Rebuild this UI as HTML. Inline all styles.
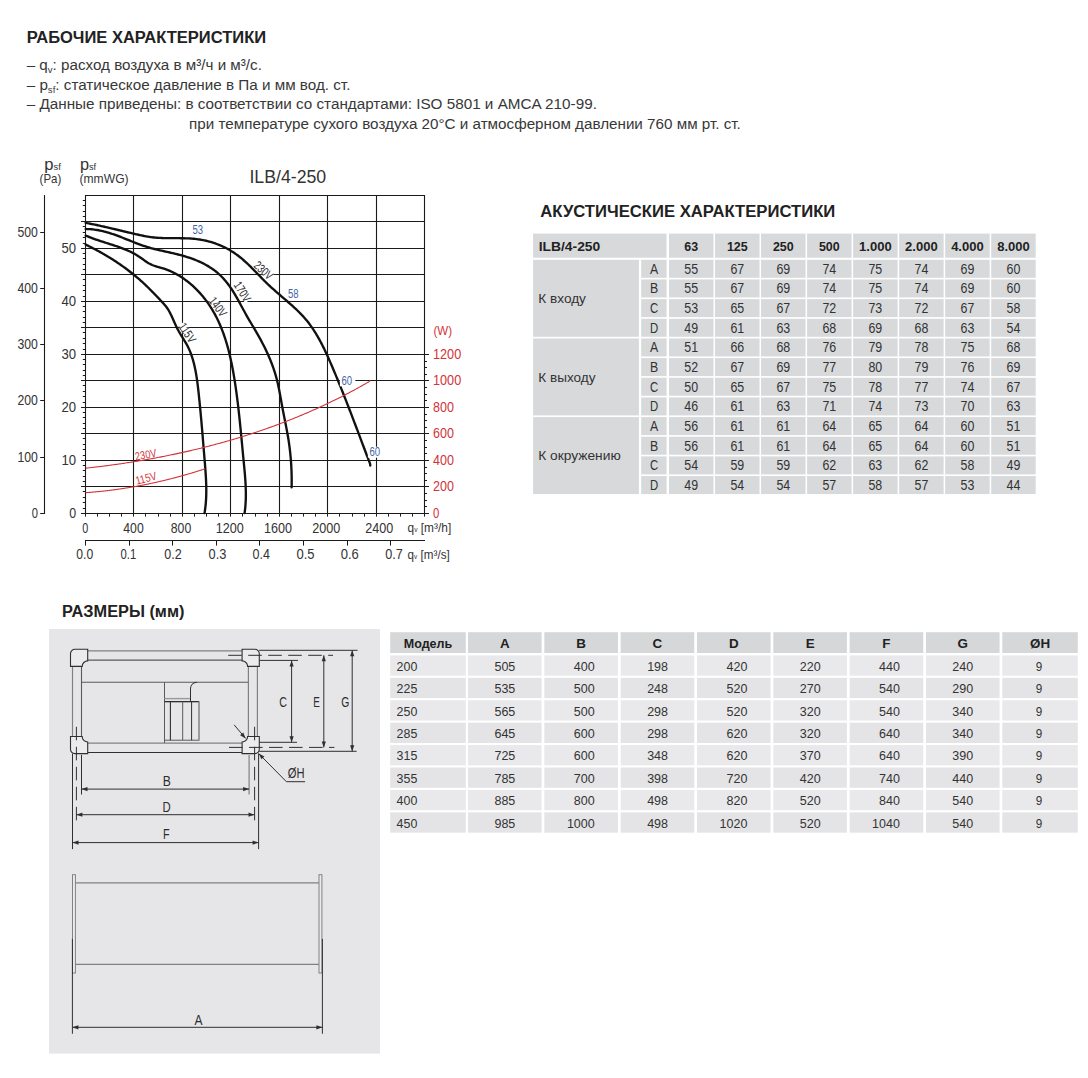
<!DOCTYPE html>
<html><head><meta charset="utf-8"><title>ILB/4-250</title>
<style>
html,body{margin:0;padding:0;background:#fff;}
body{width:1088px;height:1078px;overflow:hidden;}
svg{display:block;font-family:"Liberation Sans",sans-serif;}
</style></head>
<body>
<svg width="1088" height="1078" viewBox="0 0 1088 1078">
<text x="26.70" y="42.70" font-size="17.4" font-weight="bold" fill="#222" textLength="239.40" lengthAdjust="spacingAndGlyphs">РАБОЧИЕ ХАРАКТЕРИСТИКИ</text>
<text x="26.70" y="69.80" font-size="15.2" fill="#383838" textLength="235.20" lengthAdjust="spacingAndGlyphs">– q<tspan font-size="9.5" dy="3.2">v</tspan><tspan dy="-3.2">: расход воздуха в м³/ч и м³/с.</tspan></text>
<text x="26.70" y="89.80" font-size="15.2" fill="#383838" textLength="323.70" lengthAdjust="spacingAndGlyphs">– p<tspan font-size="9.5" dy="3.2">sf</tspan><tspan dy="-3.2">: статическое давление в Па и мм вод. ст.</tspan></text>
<text x="26.70" y="109.30" font-size="15.2" fill="#383838" textLength="570.20" lengthAdjust="spacingAndGlyphs">– Данные приведены: в соответствии со стандартами: ISO 5801 и AMCA 210-99.</text>
<text x="189.10" y="128.80" font-size="15.2" fill="#383838" textLength="551.70" lengthAdjust="spacingAndGlyphs">при температуре сухого воздуха 20°C и атмосферном давлении 760 мм рт. ст.</text>
<line x1="85.50" y1="195.00" x2="85.50" y2="514.00" stroke="#1a1a1a" stroke-width="1.1" />
<line x1="133.50" y1="195.00" x2="133.50" y2="514.00" stroke="#1a1a1a" stroke-width="1.1" />
<line x1="182.50" y1="195.00" x2="182.50" y2="514.00" stroke="#1a1a1a" stroke-width="1.1" />
<line x1="230.50" y1="195.00" x2="230.50" y2="514.00" stroke="#1a1a1a" stroke-width="1.1" />
<line x1="279.50" y1="195.00" x2="279.50" y2="514.00" stroke="#1a1a1a" stroke-width="1.1" />
<line x1="327.50" y1="195.00" x2="327.50" y2="514.00" stroke="#1a1a1a" stroke-width="1.1" />
<line x1="376.50" y1="195.00" x2="376.50" y2="514.00" stroke="#1a1a1a" stroke-width="1.1" />
<line x1="424.50" y1="195.00" x2="424.50" y2="514.00" stroke="#1a1a1a" stroke-width="1.1" />
<line x1="81.00" y1="513.50" x2="429.00" y2="513.50" stroke="#1a1a1a" stroke-width="1.1" />
<line x1="81.00" y1="486.50" x2="429.00" y2="486.50" stroke="#1a1a1a" stroke-width="1.1" />
<line x1="81.00" y1="460.50" x2="429.00" y2="460.50" stroke="#1a1a1a" stroke-width="1.1" />
<line x1="81.00" y1="433.50" x2="429.00" y2="433.50" stroke="#1a1a1a" stroke-width="1.1" />
<line x1="81.00" y1="407.50" x2="429.00" y2="407.50" stroke="#1a1a1a" stroke-width="1.1" />
<line x1="81.00" y1="380.50" x2="429.00" y2="380.50" stroke="#1a1a1a" stroke-width="1.1" />
<line x1="81.00" y1="354.50" x2="429.00" y2="354.50" stroke="#1a1a1a" stroke-width="1.1" />
<line x1="81.00" y1="327.50" x2="425.00" y2="327.50" stroke="#1a1a1a" stroke-width="1.1" />
<line x1="81.00" y1="301.50" x2="425.00" y2="301.50" stroke="#1a1a1a" stroke-width="1.1" />
<line x1="81.00" y1="274.50" x2="425.00" y2="274.50" stroke="#1a1a1a" stroke-width="1.1" />
<line x1="81.00" y1="248.50" x2="425.00" y2="248.50" stroke="#1a1a1a" stroke-width="1.1" />
<line x1="81.00" y1="221.50" x2="425.00" y2="221.50" stroke="#1a1a1a" stroke-width="1.1" />
<line x1="85.00" y1="195.50" x2="425.00" y2="195.50" stroke="#1a1a1a" stroke-width="1.1" />
<line x1="82.80" y1="508.50" x2="85.00" y2="508.50" stroke="#1a1a1a" stroke-width="1.0" />
<line x1="82.80" y1="502.50" x2="85.00" y2="502.50" stroke="#1a1a1a" stroke-width="1.0" />
<line x1="82.80" y1="497.50" x2="85.00" y2="497.50" stroke="#1a1a1a" stroke-width="1.0" />
<line x1="82.80" y1="491.50" x2="85.00" y2="491.50" stroke="#1a1a1a" stroke-width="1.0" />
<line x1="82.80" y1="481.50" x2="85.00" y2="481.50" stroke="#1a1a1a" stroke-width="1.0" />
<line x1="82.80" y1="476.50" x2="85.00" y2="476.50" stroke="#1a1a1a" stroke-width="1.0" />
<line x1="82.80" y1="470.50" x2="85.00" y2="470.50" stroke="#1a1a1a" stroke-width="1.0" />
<line x1="82.80" y1="465.50" x2="85.00" y2="465.50" stroke="#1a1a1a" stroke-width="1.0" />
<line x1="82.80" y1="455.50" x2="85.00" y2="455.50" stroke="#1a1a1a" stroke-width="1.0" />
<line x1="82.80" y1="449.50" x2="85.00" y2="449.50" stroke="#1a1a1a" stroke-width="1.0" />
<line x1="82.80" y1="444.50" x2="85.00" y2="444.50" stroke="#1a1a1a" stroke-width="1.0" />
<line x1="82.80" y1="438.50" x2="85.00" y2="438.50" stroke="#1a1a1a" stroke-width="1.0" />
<line x1="82.80" y1="428.50" x2="85.00" y2="428.50" stroke="#1a1a1a" stroke-width="1.0" />
<line x1="82.80" y1="423.50" x2="85.00" y2="423.50" stroke="#1a1a1a" stroke-width="1.0" />
<line x1="82.80" y1="417.50" x2="85.00" y2="417.50" stroke="#1a1a1a" stroke-width="1.0" />
<line x1="82.80" y1="412.50" x2="85.00" y2="412.50" stroke="#1a1a1a" stroke-width="1.0" />
<line x1="82.80" y1="402.50" x2="85.00" y2="402.50" stroke="#1a1a1a" stroke-width="1.0" />
<line x1="82.80" y1="396.50" x2="85.00" y2="396.50" stroke="#1a1a1a" stroke-width="1.0" />
<line x1="82.80" y1="391.50" x2="85.00" y2="391.50" stroke="#1a1a1a" stroke-width="1.0" />
<line x1="82.80" y1="385.50" x2="85.00" y2="385.50" stroke="#1a1a1a" stroke-width="1.0" />
<line x1="82.80" y1="375.50" x2="85.00" y2="375.50" stroke="#1a1a1a" stroke-width="1.0" />
<line x1="82.80" y1="370.50" x2="85.00" y2="370.50" stroke="#1a1a1a" stroke-width="1.0" />
<line x1="82.80" y1="364.50" x2="85.00" y2="364.50" stroke="#1a1a1a" stroke-width="1.0" />
<line x1="82.80" y1="359.50" x2="85.00" y2="359.50" stroke="#1a1a1a" stroke-width="1.0" />
<line x1="82.80" y1="349.50" x2="85.00" y2="349.50" stroke="#1a1a1a" stroke-width="1.0" />
<line x1="82.80" y1="343.50" x2="85.00" y2="343.50" stroke="#1a1a1a" stroke-width="1.0" />
<line x1="82.80" y1="338.50" x2="85.00" y2="338.50" stroke="#1a1a1a" stroke-width="1.0" />
<line x1="82.80" y1="332.50" x2="85.00" y2="332.50" stroke="#1a1a1a" stroke-width="1.0" />
<line x1="82.80" y1="322.50" x2="85.00" y2="322.50" stroke="#1a1a1a" stroke-width="1.0" />
<line x1="82.80" y1="317.50" x2="85.00" y2="317.50" stroke="#1a1a1a" stroke-width="1.0" />
<line x1="82.80" y1="311.50" x2="85.00" y2="311.50" stroke="#1a1a1a" stroke-width="1.0" />
<line x1="82.80" y1="306.50" x2="85.00" y2="306.50" stroke="#1a1a1a" stroke-width="1.0" />
<line x1="82.80" y1="296.50" x2="85.00" y2="296.50" stroke="#1a1a1a" stroke-width="1.0" />
<line x1="82.80" y1="290.50" x2="85.00" y2="290.50" stroke="#1a1a1a" stroke-width="1.0" />
<line x1="82.80" y1="285.50" x2="85.00" y2="285.50" stroke="#1a1a1a" stroke-width="1.0" />
<line x1="82.80" y1="279.50" x2="85.00" y2="279.50" stroke="#1a1a1a" stroke-width="1.0" />
<line x1="82.80" y1="269.50" x2="85.00" y2="269.50" stroke="#1a1a1a" stroke-width="1.0" />
<line x1="82.80" y1="264.50" x2="85.00" y2="264.50" stroke="#1a1a1a" stroke-width="1.0" />
<line x1="82.80" y1="258.50" x2="85.00" y2="258.50" stroke="#1a1a1a" stroke-width="1.0" />
<line x1="82.80" y1="253.50" x2="85.00" y2="253.50" stroke="#1a1a1a" stroke-width="1.0" />
<line x1="82.80" y1="243.50" x2="85.00" y2="243.50" stroke="#1a1a1a" stroke-width="1.0" />
<line x1="82.80" y1="237.50" x2="85.00" y2="237.50" stroke="#1a1a1a" stroke-width="1.0" />
<line x1="82.80" y1="232.50" x2="85.00" y2="232.50" stroke="#1a1a1a" stroke-width="1.0" />
<line x1="82.80" y1="226.50" x2="85.00" y2="226.50" stroke="#1a1a1a" stroke-width="1.0" />
<line x1="82.80" y1="216.50" x2="85.00" y2="216.50" stroke="#1a1a1a" stroke-width="1.0" />
<line x1="82.80" y1="211.50" x2="85.00" y2="211.50" stroke="#1a1a1a" stroke-width="1.0" />
<line x1="82.80" y1="205.50" x2="85.00" y2="205.50" stroke="#1a1a1a" stroke-width="1.0" />
<line x1="82.80" y1="200.50" x2="85.00" y2="200.50" stroke="#1a1a1a" stroke-width="1.0" />
<line x1="424.00" y1="506.50" x2="427.00" y2="506.50" stroke="#1a1a1a" stroke-width="1.0" />
<line x1="424.00" y1="500.50" x2="427.00" y2="500.50" stroke="#1a1a1a" stroke-width="1.0" />
<line x1="424.00" y1="493.50" x2="427.00" y2="493.50" stroke="#1a1a1a" stroke-width="1.0" />
<line x1="424.00" y1="480.50" x2="427.00" y2="480.50" stroke="#1a1a1a" stroke-width="1.0" />
<line x1="424.00" y1="473.50" x2="427.00" y2="473.50" stroke="#1a1a1a" stroke-width="1.0" />
<line x1="424.00" y1="467.50" x2="427.00" y2="467.50" stroke="#1a1a1a" stroke-width="1.0" />
<line x1="424.00" y1="453.50" x2="427.00" y2="453.50" stroke="#1a1a1a" stroke-width="1.0" />
<line x1="424.00" y1="447.50" x2="427.00" y2="447.50" stroke="#1a1a1a" stroke-width="1.0" />
<line x1="424.00" y1="440.50" x2="427.00" y2="440.50" stroke="#1a1a1a" stroke-width="1.0" />
<line x1="424.00" y1="427.50" x2="427.00" y2="427.50" stroke="#1a1a1a" stroke-width="1.0" />
<line x1="424.00" y1="420.50" x2="427.00" y2="420.50" stroke="#1a1a1a" stroke-width="1.0" />
<line x1="424.00" y1="414.50" x2="427.00" y2="414.50" stroke="#1a1a1a" stroke-width="1.0" />
<line x1="424.00" y1="400.50" x2="427.00" y2="400.50" stroke="#1a1a1a" stroke-width="1.0" />
<line x1="424.00" y1="394.50" x2="427.00" y2="394.50" stroke="#1a1a1a" stroke-width="1.0" />
<line x1="424.00" y1="387.50" x2="427.00" y2="387.50" stroke="#1a1a1a" stroke-width="1.0" />
<line x1="424.00" y1="374.50" x2="427.00" y2="374.50" stroke="#1a1a1a" stroke-width="1.0" />
<line x1="424.00" y1="367.50" x2="427.00" y2="367.50" stroke="#1a1a1a" stroke-width="1.0" />
<line x1="424.00" y1="361.50" x2="427.00" y2="361.50" stroke="#1a1a1a" stroke-width="1.0" />
<line x1="85.50" y1="513.00" x2="85.50" y2="516.60" stroke="#1a1a1a" stroke-width="1.0" />
<line x1="97.50" y1="513.00" x2="97.50" y2="516.60" stroke="#1a1a1a" stroke-width="1.0" />
<line x1="109.50" y1="513.00" x2="109.50" y2="516.60" stroke="#1a1a1a" stroke-width="1.0" />
<line x1="121.50" y1="513.00" x2="121.50" y2="516.60" stroke="#1a1a1a" stroke-width="1.0" />
<line x1="133.50" y1="513.00" x2="133.50" y2="516.60" stroke="#1a1a1a" stroke-width="1.0" />
<line x1="145.50" y1="513.00" x2="145.50" y2="516.60" stroke="#1a1a1a" stroke-width="1.0" />
<line x1="158.50" y1="513.00" x2="158.50" y2="516.60" stroke="#1a1a1a" stroke-width="1.0" />
<line x1="170.50" y1="513.00" x2="170.50" y2="516.60" stroke="#1a1a1a" stroke-width="1.0" />
<line x1="182.50" y1="513.00" x2="182.50" y2="516.60" stroke="#1a1a1a" stroke-width="1.0" />
<line x1="194.50" y1="513.00" x2="194.50" y2="516.60" stroke="#1a1a1a" stroke-width="1.0" />
<line x1="206.50" y1="513.00" x2="206.50" y2="516.60" stroke="#1a1a1a" stroke-width="1.0" />
<line x1="218.50" y1="513.00" x2="218.50" y2="516.60" stroke="#1a1a1a" stroke-width="1.0" />
<line x1="230.50" y1="513.00" x2="230.50" y2="516.60" stroke="#1a1a1a" stroke-width="1.0" />
<line x1="242.50" y1="513.00" x2="242.50" y2="516.60" stroke="#1a1a1a" stroke-width="1.0" />
<line x1="255.50" y1="513.00" x2="255.50" y2="516.60" stroke="#1a1a1a" stroke-width="1.0" />
<line x1="267.50" y1="513.00" x2="267.50" y2="516.60" stroke="#1a1a1a" stroke-width="1.0" />
<line x1="279.50" y1="513.00" x2="279.50" y2="516.60" stroke="#1a1a1a" stroke-width="1.0" />
<line x1="291.50" y1="513.00" x2="291.50" y2="516.60" stroke="#1a1a1a" stroke-width="1.0" />
<line x1="303.50" y1="513.00" x2="303.50" y2="516.60" stroke="#1a1a1a" stroke-width="1.0" />
<line x1="315.50" y1="513.00" x2="315.50" y2="516.60" stroke="#1a1a1a" stroke-width="1.0" />
<line x1="327.50" y1="513.00" x2="327.50" y2="516.60" stroke="#1a1a1a" stroke-width="1.0" />
<line x1="339.50" y1="513.00" x2="339.50" y2="516.60" stroke="#1a1a1a" stroke-width="1.0" />
<line x1="352.50" y1="513.00" x2="352.50" y2="516.60" stroke="#1a1a1a" stroke-width="1.0" />
<line x1="364.50" y1="513.00" x2="364.50" y2="516.60" stroke="#1a1a1a" stroke-width="1.0" />
<line x1="376.50" y1="513.00" x2="376.50" y2="516.60" stroke="#1a1a1a" stroke-width="1.0" />
<line x1="388.50" y1="513.00" x2="388.50" y2="516.60" stroke="#1a1a1a" stroke-width="1.0" />
<line x1="400.50" y1="513.00" x2="400.50" y2="516.60" stroke="#1a1a1a" stroke-width="1.0" />
<line x1="412.50" y1="513.00" x2="412.50" y2="516.60" stroke="#1a1a1a" stroke-width="1.0" />
<line x1="424.50" y1="513.00" x2="424.50" y2="516.60" stroke="#1a1a1a" stroke-width="1.0" />
<line x1="85.00" y1="540.50" x2="425.00" y2="540.50" stroke="#1a1a1a" stroke-width="1.1" />
<line x1="85.50" y1="540.00" x2="85.50" y2="545.60" stroke="#1a1a1a" stroke-width="1.0" />
<line x1="129.50" y1="540.00" x2="129.50" y2="545.60" stroke="#1a1a1a" stroke-width="1.0" />
<line x1="172.50" y1="540.00" x2="172.50" y2="545.60" stroke="#1a1a1a" stroke-width="1.0" />
<line x1="216.50" y1="540.00" x2="216.50" y2="545.60" stroke="#1a1a1a" stroke-width="1.0" />
<line x1="259.50" y1="540.00" x2="259.50" y2="545.60" stroke="#1a1a1a" stroke-width="1.0" />
<line x1="303.50" y1="540.00" x2="303.50" y2="545.60" stroke="#1a1a1a" stroke-width="1.0" />
<line x1="347.50" y1="540.00" x2="347.50" y2="545.60" stroke="#1a1a1a" stroke-width="1.0" />
<line x1="390.50" y1="540.00" x2="390.50" y2="545.60" stroke="#1a1a1a" stroke-width="1.0" />
<line x1="44.50" y1="195.00" x2="44.50" y2="514.00" stroke="#1a1a1a" stroke-width="1.1" />
<line x1="40.20" y1="513.50" x2="45.00" y2="513.50" stroke="#1a1a1a" stroke-width="1.0" />
<line x1="40.20" y1="457.50" x2="45.00" y2="457.50" stroke="#1a1a1a" stroke-width="1.0" />
<line x1="40.20" y1="400.50" x2="45.00" y2="400.50" stroke="#1a1a1a" stroke-width="1.0" />
<line x1="40.20" y1="344.50" x2="45.00" y2="344.50" stroke="#1a1a1a" stroke-width="1.0" />
<line x1="40.20" y1="288.50" x2="45.00" y2="288.50" stroke="#1a1a1a" stroke-width="1.0" />
<line x1="40.20" y1="232.50" x2="45.00" y2="232.50" stroke="#1a1a1a" stroke-width="1.0" />
<text x="37.90" y="518.10" font-size="14.2" fill="#333" text-anchor="end" textLength="6.20" lengthAdjust="spacingAndGlyphs">0</text>
<text x="37.90" y="462.10" font-size="14.2" fill="#333" text-anchor="end" textLength="20.40" lengthAdjust="spacingAndGlyphs">100</text>
<text x="37.90" y="405.10" font-size="14.2" fill="#333" text-anchor="end" textLength="20.40" lengthAdjust="spacingAndGlyphs">200</text>
<text x="37.90" y="349.10" font-size="14.2" fill="#333" text-anchor="end" textLength="20.40" lengthAdjust="spacingAndGlyphs">300</text>
<text x="37.90" y="293.10" font-size="14.2" fill="#333" text-anchor="end" textLength="20.40" lengthAdjust="spacingAndGlyphs">400</text>
<text x="37.90" y="237.10" font-size="14.2" fill="#333" text-anchor="end" textLength="20.40" lengthAdjust="spacingAndGlyphs">500</text>
<text x="76.10" y="518.10" font-size="14.2" fill="#333" text-anchor="end" textLength="6.90" lengthAdjust="spacingAndGlyphs">0</text>
<text x="76.10" y="465.10" font-size="14.2" fill="#333" text-anchor="end" textLength="14.60" lengthAdjust="spacingAndGlyphs">10</text>
<text x="76.10" y="412.10" font-size="14.2" fill="#333" text-anchor="end" textLength="14.60" lengthAdjust="spacingAndGlyphs">20</text>
<text x="76.10" y="359.10" font-size="14.2" fill="#333" text-anchor="end" textLength="14.60" lengthAdjust="spacingAndGlyphs">30</text>
<text x="76.10" y="306.10" font-size="14.2" fill="#333" text-anchor="end" textLength="14.60" lengthAdjust="spacingAndGlyphs">40</text>
<text x="76.10" y="253.10" font-size="14.2" fill="#333" text-anchor="end" textLength="14.60" lengthAdjust="spacingAndGlyphs">50</text>
<text x="85.30" y="532.90" font-size="14.2" fill="#333" text-anchor="middle" textLength="6.00" lengthAdjust="spacingAndGlyphs">0</text>
<text x="133.50" y="532.90" font-size="14.2" fill="#333" text-anchor="middle" textLength="20.40" lengthAdjust="spacingAndGlyphs">400</text>
<text x="181.00" y="532.90" font-size="14.2" fill="#333" text-anchor="middle" textLength="20.40" lengthAdjust="spacingAndGlyphs">800</text>
<text x="229.70" y="532.90" font-size="14.2" fill="#333" text-anchor="middle" textLength="28.00" lengthAdjust="spacingAndGlyphs">1200</text>
<text x="278.00" y="532.90" font-size="14.2" fill="#333" text-anchor="middle" textLength="28.00" lengthAdjust="spacingAndGlyphs">1600</text>
<text x="326.20" y="532.90" font-size="14.2" fill="#333" text-anchor="middle" textLength="28.00" lengthAdjust="spacingAndGlyphs">2000</text>
<text x="379.20" y="532.90" font-size="14.2" fill="#333" text-anchor="middle" textLength="28.00" lengthAdjust="spacingAndGlyphs">2400</text>
<text x="84.70" y="558.80" font-size="14.2" fill="#333" text-anchor="middle" textLength="16.90" lengthAdjust="spacingAndGlyphs">0.0</text>
<text x="128.40" y="558.80" font-size="14.2" fill="#333" text-anchor="middle" textLength="15.70" lengthAdjust="spacingAndGlyphs">0.1</text>
<text x="173.00" y="558.80" font-size="14.2" fill="#333" text-anchor="middle" textLength="17.40" lengthAdjust="spacingAndGlyphs">0.2</text>
<text x="217.50" y="558.80" font-size="14.2" fill="#333" text-anchor="middle" textLength="17.80" lengthAdjust="spacingAndGlyphs">0.3</text>
<text x="261.20" y="558.80" font-size="14.2" fill="#333" text-anchor="middle" textLength="17.40" lengthAdjust="spacingAndGlyphs">0.4</text>
<text x="305.50" y="558.80" font-size="14.2" fill="#333" text-anchor="middle" textLength="18.10" lengthAdjust="spacingAndGlyphs">0.5</text>
<text x="349.70" y="558.80" font-size="14.2" fill="#333" text-anchor="middle" textLength="18.10" lengthAdjust="spacingAndGlyphs">0.6</text>
<text x="394.00" y="558.80" font-size="14.2" fill="#333" text-anchor="middle" textLength="17.60" lengthAdjust="spacingAndGlyphs">0.7</text>
<text x="433.00" y="518.10" font-size="14.2" fill="#d2343b" textLength="6.30" lengthAdjust="spacingAndGlyphs">0</text>
<text x="433.00" y="491.10" font-size="14.2" fill="#d2343b" textLength="20.90" lengthAdjust="spacingAndGlyphs">200</text>
<text x="433.00" y="465.10" font-size="14.2" fill="#d2343b" textLength="20.90" lengthAdjust="spacingAndGlyphs">400</text>
<text x="433.00" y="438.10" font-size="14.2" fill="#d2343b" textLength="20.90" lengthAdjust="spacingAndGlyphs">600</text>
<text x="433.00" y="412.10" font-size="14.2" fill="#d2343b" textLength="20.90" lengthAdjust="spacingAndGlyphs">800</text>
<text x="433.00" y="385.10" font-size="14.2" fill="#d2343b" textLength="28.20" lengthAdjust="spacingAndGlyphs">1000</text>
<text x="433.00" y="359.10" font-size="14.2" fill="#d2343b" textLength="28.20" lengthAdjust="spacingAndGlyphs">1200</text>
<text x="433.40" y="335.40" font-size="13.5" fill="#d2343b" textLength="18.60" lengthAdjust="spacingAndGlyphs">(W)</text>
<text x="407.60" y="532.40" font-size="12.6" fill="#333" textLength="43.60" lengthAdjust="spacingAndGlyphs">q<tspan font-size="7" dy="0">v</tspan><tspan> [m³/h]</tspan></text>
<text x="407.60" y="558.60" font-size="12.6" fill="#333" textLength="42.10" lengthAdjust="spacingAndGlyphs">q<tspan font-size="7" dy="0">v</tspan><tspan> [m³/s]</tspan></text>
<text x="44.30" y="169.50" font-size="16" fill="#333" textLength="16.50" lengthAdjust="spacingAndGlyphs">p<tspan font-size="9" dy="0">sf</tspan></text>
<text x="39.60" y="183.00" font-size="13.2" fill="#333" textLength="21.70" lengthAdjust="spacingAndGlyphs">(Pa)</text>
<text x="79.90" y="169.50" font-size="16" fill="#333" textLength="16.20" lengthAdjust="spacingAndGlyphs">p<tspan font-size="9" dy="0">sf</tspan></text>
<text x="79.50" y="183.00" font-size="13.2" fill="#333" textLength="49.10" lengthAdjust="spacingAndGlyphs">(mmWG)</text>
<text x="249.40" y="183.30" font-size="18.8" fill="#333" textLength="76.80" lengthAdjust="spacingAndGlyphs">ILB/4-250</text>
<path d="M85.70,222.80 L87.25,223.17 L88.80,223.46 L90.36,223.76 L91.91,224.07 L93.46,224.38 L95.01,224.70 L96.56,225.02 L98.11,225.35 L99.66,225.69 L101.21,226.03 L102.76,226.38 L104.31,226.73 L105.86,227.08 L107.41,227.44 L108.96,227.80 L110.51,228.16 L112.05,228.52 L113.60,228.89 L115.15,229.26 L116.70,229.63 L118.25,230.00 L119.80,230.37 L121.35,230.75 L122.90,231.12 L124.44,231.49 L125.99,231.86 L127.54,232.24 L129.09,232.60 L130.65,232.97 L132.20,233.34 L133.75,233.70 L135.30,234.06 L136.85,234.42 L138.41,234.77 L139.96,235.11 L141.52,235.44 L143.07,235.75 L144.63,236.06 L146.19,236.34 L147.75,236.61 L149.32,236.86 L150.88,237.08 L152.45,237.29 L154.02,237.46 L155.59,237.62 L157.16,237.75 L158.74,237.85 L160.32,237.94 L161.89,238.01 L163.47,238.07 L165.05,238.11 L166.64,238.14 L168.22,238.16 L169.80,238.17 L171.39,238.18 L172.97,238.18 L174.55,238.19 L176.14,238.19 L177.72,238.19 L179.31,238.20 L180.89,238.21 L182.48,238.23 L184.06,238.26 L185.64,238.31 L187.22,238.36 L188.80,238.43 L190.38,238.52 L191.96,238.63 L193.54,238.76 L195.11,238.91 L196.68,239.09 L198.25,239.30 L199.82,239.53 L201.39,239.80 L202.95,240.09 L204.51,240.41 L206.06,240.76 L207.61,241.14 L209.15,241.54 L210.68,241.98 L212.21,242.44 L213.72,242.93 L215.23,243.45 L216.73,243.99 L218.22,244.56 L219.70,245.16 L221.16,245.79 L222.62,246.44 L224.06,247.12 L225.48,247.82 L226.89,248.55 L228.29,249.31 L229.67,250.09 L231.03,250.89 L232.38,251.72 L233.71,252.58 L235.02,253.46 L236.30,254.36 L237.57,255.29 L238.83,256.24 L240.06,257.21 L241.28,258.20 L242.48,259.22 L243.67,260.24 L244.85,261.29 L246.01,262.35 L247.17,263.42 L248.31,264.51 L249.45,265.61 L250.58,266.71 L251.70,267.83 L252.82,268.96 L253.93,270.09 L255.04,271.22 L256.15,272.36 L257.25,273.51 L258.36,274.65 L259.47,275.80 L260.58,276.94 L261.69,278.09 L262.81,279.23 L263.93,280.36 L265.06,281.49 L266.20,282.62 L267.35,283.73 L268.51,284.83 L269.67,285.93 L270.85,287.02 L272.03,288.10 L273.23,289.17 L274.42,290.23 L275.63,291.29 L276.84,292.34 L278.05,293.39 L279.26,294.44 L280.48,295.48 L281.69,296.52 L282.91,297.57 L284.13,298.61 L285.34,299.65 L286.55,300.69 L287.76,301.74 L288.96,302.78 L290.16,303.84 L291.35,304.89 L292.53,305.95 L293.71,307.02 L294.87,308.10 L296.03,309.18 L297.17,310.27 L298.30,311.38 L299.42,312.49 L300.52,313.61 L301.61,314.74 L302.69,315.89 L303.74,317.05 L304.78,318.23 L305.80,319.42 L306.80,320.62 L307.78,321.85 L308.74,323.08 L309.69,324.33 L310.61,325.60 L311.52,326.88 L312.42,328.17 L313.29,329.47 L314.15,330.79 L315.00,332.12 L315.83,333.46 L316.64,334.81 L317.45,336.17 L318.24,337.54 L319.01,338.92 L319.78,340.31 L320.53,341.70 L321.27,343.11 L322.00,344.52 L322.72,345.94 L323.43,347.37 L324.14,348.80 L324.83,350.24 L325.51,351.68 L326.19,353.13 L326.86,354.58 L327.52,356.04 L328.18,357.50 L328.83,358.96 L329.48,360.42 L330.12,361.89 L330.75,363.36 L331.39,364.83 L332.02,366.30 L332.65,367.76 L333.27,369.23 L333.89,370.70 L334.51,372.17 L335.13,373.64 L335.74,375.11 L336.35,376.58 L336.96,378.05 L337.57,379.52 L338.17,381.00 L338.77,382.47 L339.37,383.94 L339.97,385.41 L340.56,386.88 L341.16,388.35 L341.75,389.83 L342.34,391.30 L342.92,392.77 L343.51,394.25 L344.09,395.72 L344.68,397.19 L345.26,398.67 L345.83,400.14 L346.41,401.62 L346.99,403.09 L347.56,404.57 L348.14,406.04 L348.71,407.52 L349.28,409.00 L349.85,410.47 L350.42,411.95 L350.99,413.43 L351.55,414.90 L352.12,416.38 L352.68,417.86 L353.25,419.34 L353.81,420.82 L354.37,422.30 L354.93,423.78 L355.50,425.26 L356.06,426.74 L356.62,428.22 L357.18,429.70 L357.74,431.19 L358.30,432.67 L358.86,434.15 L359.42,435.64 L359.98,437.12 L360.54,438.60 L361.10,440.09 L361.65,441.57 L362.21,443.06 L362.77,444.55 L363.33,446.03 L363.90,447.52 L364.46,449.01 L365.02,450.50 L365.58,451.99 L366.14,453.48 L366.71,454.97 L367.27,456.46 L367.83,457.95 L368.40,459.44 L368.97,460.93 L369.53,462.43 L370.10,463.92 L370.30,465.50" fill="none" stroke="#111" stroke-width="2.35" stroke-linecap="round" stroke-linejoin="round"/>
<path d="M85.70,228.90 L87.13,229.05 L88.60,229.09 L90.07,229.17 L91.52,229.28 L92.97,229.42 L94.41,229.59 L95.84,229.79 L97.26,230.02 L98.68,230.27 L100.09,230.55 L101.49,230.85 L102.89,231.18 L104.28,231.53 L105.67,231.89 L107.05,232.28 L108.42,232.69 L109.79,233.11 L111.16,233.55 L112.52,234.00 L113.88,234.46 L115.24,234.94 L116.59,235.43 L117.94,235.93 L119.28,236.44 L120.63,236.96 L121.97,237.48 L123.31,238.01 L124.65,238.54 L125.99,239.07 L127.33,239.61 L128.66,240.15 L130.00,240.68 L131.34,241.22 L132.68,241.75 L134.01,242.28 L135.35,242.80 L136.70,243.32 L138.04,243.83 L139.38,244.33 L140.73,244.82 L142.08,245.30 L143.43,245.77 L144.79,246.22 L146.15,246.66 L147.51,247.08 L148.88,247.49 L150.25,247.89 L151.63,248.27 L153.01,248.63 L154.39,248.99 L155.77,249.34 L157.16,249.67 L158.55,250.01 L159.94,250.33 L161.34,250.65 L162.73,250.96 L164.13,251.27 L165.53,251.58 L166.92,251.89 L168.32,252.20 L169.72,252.52 L171.12,252.83 L172.53,253.15 L173.93,253.48 L175.33,253.81 L176.73,254.15 L178.12,254.49 L179.52,254.85 L180.92,255.22 L182.31,255.60 L183.71,256.00 L185.10,256.41 L186.48,256.83 L187.87,257.27 L189.24,257.72 L190.62,258.19 L191.99,258.67 L193.35,259.17 L194.70,259.69 L196.04,260.22 L197.38,260.78 L198.71,261.35 L200.02,261.94 L201.33,262.55 L202.62,263.17 L203.91,263.82 L205.18,264.49 L206.43,265.18 L207.67,265.89 L208.90,266.62 L210.11,267.38 L211.31,268.15 L212.48,268.95 L213.64,269.78 L214.79,270.62 L215.91,271.49 L217.01,272.39 L218.09,273.31 L219.16,274.26 L220.20,275.23 L221.21,276.23 L222.21,277.25 L223.19,278.29 L224.15,279.36 L225.09,280.44 L226.01,281.55 L226.91,282.67 L227.79,283.81 L228.66,284.96 L229.51,286.13 L230.34,287.32 L231.15,288.51 L231.96,289.72 L232.74,290.93 L233.51,292.16 L234.27,293.39 L235.02,294.63 L235.75,295.87 L236.47,297.12 L237.19,298.38 L237.89,299.64 L238.59,300.90 L239.28,302.17 L239.97,303.43 L240.66,304.70 L241.34,305.97 L242.02,307.24 L242.71,308.51 L243.39,309.77 L244.08,311.04 L244.78,312.30 L245.47,313.55 L246.18,314.81 L246.89,316.06 L247.61,317.30 L248.33,318.55 L249.05,319.79 L249.78,321.03 L250.51,322.27 L251.24,323.51 L251.97,324.74 L252.70,325.98 L253.43,327.22 L254.17,328.45 L254.90,329.69 L255.62,330.93 L256.35,332.17 L257.07,333.41 L257.78,334.65 L258.49,335.90 L259.20,337.15 L259.90,338.41 L260.59,339.66 L261.28,340.92 L261.95,342.19 L262.62,343.46 L263.28,344.74 L263.94,346.01 L264.58,347.30 L265.21,348.59 L265.84,349.88 L266.45,351.17 L267.06,352.48 L267.66,353.78 L268.24,355.09 L268.82,356.40 L269.38,357.72 L269.94,359.05 L270.48,360.37 L271.01,361.70 L271.53,363.04 L272.04,364.38 L272.54,365.72 L273.02,367.07 L273.50,368.42 L273.96,369.78 L274.40,371.14 L274.84,372.51 L275.26,373.88 L275.67,375.25 L276.06,376.63 L276.44,378.02 L276.81,379.40 L277.16,380.79 L277.49,382.19 L277.82,383.59 L278.13,384.99 L278.44,386.40 L278.73,387.80 L279.02,389.21 L279.30,390.63 L279.57,392.04 L279.84,393.46 L280.10,394.88 L280.36,396.29 L280.61,397.71 L280.86,399.13 L281.12,400.55 L281.37,401.97 L281.62,403.39 L281.88,404.81 L282.14,406.23 L282.40,407.64 L282.67,409.06 L282.94,410.47 L283.21,411.88 L283.49,413.30 L283.77,414.71 L284.05,416.11 L284.33,417.52 L284.61,418.93 L284.89,420.34 L285.17,421.75 L285.45,423.15 L285.73,424.56 L286.01,425.97 L286.28,427.38 L286.55,428.79 L286.82,430.20 L287.08,431.61 L287.34,433.02 L287.59,434.43 L287.84,435.84 L288.08,437.26 L288.31,438.67 L288.54,440.09 L288.76,441.51 L288.97,442.93 L289.17,444.35 L289.36,445.78 L289.55,447.20 L289.73,448.63 L289.90,450.06 L290.06,451.49 L290.22,452.92 L290.36,454.35 L290.50,455.78 L290.64,457.22 L290.76,458.65 L290.88,460.09 L290.98,461.52 L291.09,462.96 L291.18,464.39 L291.26,465.83 L291.34,467.27 L291.41,468.71 L291.47,470.15 L291.53,471.58 L291.57,473.02 L291.61,474.46 L291.64,475.90 L291.67,477.34 L291.68,478.78 L291.69,480.22 L291.69,481.66 L291.68,483.09 L291.67,484.53 L291.64,485.97 L291.60,487.40" fill="none" stroke="#111" stroke-width="2.35" stroke-linecap="round" stroke-linejoin="round"/>
<path d="M85.70,235.60 L87.01,236.03 L88.26,236.57 L89.53,237.09 L90.80,237.60 L92.08,238.10 L93.37,238.58 L94.67,239.06 L95.97,239.52 L97.28,239.97 L98.59,240.42 L99.91,240.86 L101.23,241.29 L102.55,241.72 L103.88,242.15 L105.21,242.57 L106.54,243.00 L107.87,243.42 L109.20,243.84 L110.53,244.26 L111.86,244.69 L113.19,245.12 L114.51,245.56 L115.83,246.00 L117.15,246.45 L118.47,246.91 L119.78,247.37 L121.08,247.85 L122.38,248.34 L123.67,248.84 L124.95,249.35 L126.22,249.88 L127.49,250.42 L128.75,250.98 L129.99,251.56 L131.23,252.15 L132.45,252.77 L133.67,253.41 L134.87,254.07 L136.06,254.75 L137.23,255.45 L138.39,256.19 L139.54,256.94 L140.67,257.72 L141.79,258.52 L142.91,259.32 L144.03,260.13 L145.15,260.92 L146.28,261.69 L147.42,262.44 L148.58,263.15 L149.77,263.82 L150.98,264.44 L152.22,265.00 L153.49,265.50 L154.78,265.96 L156.10,266.37 L157.42,266.77 L158.76,267.15 L160.10,267.52 L161.43,267.91 L162.76,268.30 L164.07,268.72 L165.37,269.17 L166.67,269.64 L167.95,270.13 L169.21,270.65 L170.47,271.19 L171.72,271.75 L172.95,272.33 L174.17,272.94 L175.39,273.57 L176.59,274.22 L177.78,274.89 L178.96,275.59 L180.13,276.30 L181.29,277.04 L182.44,277.80 L183.58,278.57 L184.71,279.37 L185.83,280.19 L186.94,281.03 L188.04,281.88 L189.12,282.75 L190.20,283.64 L191.26,284.55 L192.31,285.47 L193.35,286.41 L194.37,287.37 L195.38,288.34 L196.38,289.32 L197.37,290.32 L198.34,291.33 L199.29,292.35 L200.23,293.39 L201.16,294.44 L202.07,295.50 L202.97,296.57 L203.85,297.65 L204.72,298.74 L205.56,299.84 L206.40,300.95 L207.21,302.06 L208.02,303.19 L208.80,304.32 L209.57,305.47 L210.33,306.62 L211.07,307.78 L211.79,308.94 L212.50,310.12 L213.20,311.30 L213.88,312.49 L214.55,313.69 L215.20,314.89 L215.84,316.10 L216.47,317.32 L217.08,318.54 L217.68,319.77 L218.27,321.01 L218.85,322.26 L219.41,323.51 L219.96,324.76 L220.50,326.02 L221.02,327.29 L221.54,328.56 L222.04,329.84 L222.54,331.12 L223.02,332.41 L223.49,333.71 L223.95,335.00 L224.40,336.31 L224.84,337.61 L225.27,338.93 L225.69,340.24 L226.10,341.56 L226.50,342.88 L226.89,344.21 L227.27,345.54 L227.65,346.88 L228.01,348.21 L228.37,349.56 L228.72,350.90 L229.06,352.25 L229.39,353.59 L229.72,354.95 L230.03,356.30 L230.34,357.66 L230.65,359.02 L230.94,360.38 L231.23,361.74 L231.52,363.10 L231.80,364.47 L232.07,365.83 L232.33,367.20 L232.59,368.57 L232.85,369.94 L233.10,371.31 L233.34,372.68 L233.58,374.06 L233.81,375.43 L234.04,376.80 L234.27,378.17 L234.49,379.54 L234.71,380.92 L234.93,382.29 L235.14,383.66 L235.34,385.03 L235.55,386.40 L235.75,387.77 L235.95,389.14 L236.14,390.51 L236.33,391.88 L236.52,393.25 L236.70,394.62 L236.88,395.99 L237.06,397.36 L237.24,398.73 L237.41,400.10 L237.58,401.47 L237.75,402.84 L237.92,404.21 L238.08,405.58 L238.24,406.95 L238.40,408.32 L238.56,409.69 L238.71,411.06 L238.86,412.43 L239.01,413.79 L239.16,415.16 L239.31,416.53 L239.46,417.90 L239.60,419.27 L239.74,420.64 L239.88,422.01 L240.02,423.39 L240.16,424.76 L240.30,426.13 L240.44,427.50 L240.57,428.87 L240.70,430.24 L240.84,431.61 L240.97,432.99 L241.10,434.36 L241.23,435.73 L241.37,437.10 L241.50,438.48 L241.63,439.85 L241.76,441.22 L241.89,442.60 L242.02,443.97 L242.15,445.35 L242.27,446.73 L242.40,448.10 L242.53,449.48 L242.66,450.85 L242.80,452.23 L242.93,453.61 L243.06,454.99 L243.19,456.37 L243.32,457.75 L243.46,459.13 L243.59,460.51 L243.73,461.89 L243.86,463.27 L244.00,464.65 L244.13,466.04 L244.26,467.42 L244.39,468.80 L244.52,470.19 L244.65,471.57 L244.77,472.95 L244.89,474.34 L245.00,475.72 L245.11,477.11 L245.21,478.49 L245.31,479.88 L245.40,481.26 L245.48,482.64 L245.56,484.03 L245.63,485.41 L245.69,486.80 L245.74,488.18 L245.78,489.56 L245.81,490.95 L245.84,492.33 L245.85,493.71 L245.85,495.09 L245.84,496.47 L245.81,497.85 L245.78,499.23 L245.72,500.61 L245.66,501.99 L245.58,503.37 L245.49,504.75 L245.38,506.12 L245.26,507.50 L245.12,508.87 L244.96,510.25 L244.79,511.62 L244.60,513.00" fill="none" stroke="#111" stroke-width="2.35" stroke-linecap="round" stroke-linejoin="round"/>
<path d="M85.70,244.50 L86.73,245.10 L87.84,245.64 L88.94,246.19 L90.05,246.74 L91.14,247.29 L92.24,247.85 L93.33,248.42 L94.42,248.98 L95.51,249.56 L96.59,250.13 L97.67,250.72 L98.74,251.30 L99.82,251.89 L100.89,252.49 L101.95,253.09 L103.01,253.69 L104.07,254.30 L105.13,254.92 L106.18,255.54 L107.23,256.16 L108.28,256.79 L109.32,257.43 L110.36,258.07 L111.39,258.71 L112.42,259.36 L113.45,260.01 L114.47,260.67 L115.49,261.34 L116.51,262.01 L117.52,262.68 L118.53,263.36 L119.54,264.05 L120.54,264.74 L121.54,265.44 L122.53,266.14 L123.52,266.84 L124.51,267.56 L125.49,268.28 L126.47,269.00 L127.44,269.73 L128.41,270.46 L129.38,271.20 L130.34,271.95 L131.30,272.70 L132.26,273.46 L133.21,274.22 L134.15,274.99 L135.09,275.77 L136.03,276.55 L136.96,277.33 L137.89,278.13 L138.82,278.93 L139.74,279.73 L140.66,280.54 L141.57,281.36 L142.48,282.18 L143.38,283.01 L144.28,283.84 L145.17,284.69 L146.06,285.53 L146.95,286.39 L147.83,287.24 L148.71,288.10 L149.58,288.97 L150.45,289.84 L151.32,290.71 L152.18,291.59 L153.04,292.47 L153.90,293.35 L154.75,294.24 L155.60,295.12 L156.45,296.01 L157.29,296.90 L158.13,297.78 L158.97,298.67 L159.81,299.56 L160.64,300.45 L161.47,301.34 L162.30,302.22 L163.12,303.11 L163.92,304.01 L164.71,304.92 L165.48,305.84 L166.22,306.78 L166.92,307.74 L167.60,308.72 L168.24,309.73 L168.86,310.75 L169.44,311.80 L170.01,312.85 L170.56,313.93 L171.09,315.01 L171.61,316.11 L172.12,317.21 L172.62,318.33 L173.11,319.44 L173.61,320.56 L174.10,321.68 L174.60,322.80 L175.10,323.92 L175.62,325.04 L176.14,326.15 L176.67,327.26 L177.22,328.36 L177.78,329.45 L178.36,330.53 L178.95,331.61 L179.56,332.67 L180.18,333.73 L180.82,334.78 L181.46,335.83 L182.10,336.87 L182.75,337.91 L183.40,338.95 L184.05,340.00 L184.69,341.04 L185.32,342.09 L185.94,343.14 L186.55,344.20 L187.14,345.26 L187.71,346.33 L188.26,347.42 L188.78,348.51 L189.28,349.62 L189.76,350.73 L190.22,351.86 L190.66,352.99 L191.08,354.13 L191.48,355.27 L191.87,356.42 L192.24,357.58 L192.60,358.74 L192.94,359.90 L193.27,361.07 L193.59,362.25 L193.90,363.42 L194.19,364.61 L194.47,365.79 L194.74,366.98 L195.00,368.17 L195.25,369.37 L195.48,370.57 L195.71,371.77 L195.93,372.97 L196.14,374.18 L196.35,375.39 L196.54,376.60 L196.73,377.81 L196.91,379.02 L197.08,380.24 L197.25,381.46 L197.41,382.68 L197.57,383.90 L197.72,385.12 L197.87,386.34 L198.01,387.56 L198.15,388.78 L198.29,390.00 L198.43,391.22 L198.56,392.44 L198.69,393.67 L198.82,394.89 L198.95,396.11 L199.08,397.33 L199.21,398.54 L199.33,399.76 L199.46,400.98 L199.58,402.20 L199.70,403.42 L199.82,404.63 L199.94,405.85 L200.06,407.07 L200.18,408.28 L200.30,409.50 L200.41,410.71 L200.53,411.93 L200.64,413.14 L200.75,414.36 L200.86,415.57 L200.97,416.79 L201.08,418.00 L201.19,419.22 L201.30,420.43 L201.41,421.65 L201.52,422.86 L201.62,424.07 L201.73,425.29 L201.83,426.50 L201.94,427.71 L202.04,428.93 L202.15,430.14 L202.25,431.35 L202.35,432.57 L202.46,433.78 L202.56,435.00 L202.66,436.21 L202.76,437.42 L202.86,438.64 L202.96,439.85 L203.06,441.07 L203.16,442.28 L203.26,443.50 L203.36,444.71 L203.46,445.93 L203.56,447.15 L203.66,448.36 L203.76,449.58 L203.86,450.80 L203.96,452.01 L204.06,453.23 L204.16,454.45 L204.26,455.67 L204.36,456.89 L204.46,458.11 L204.56,459.33 L204.66,460.55 L204.76,461.77 L204.86,462.99 L204.96,464.21 L205.05,465.43 L205.15,466.65 L205.25,467.88 L205.34,469.10 L205.43,470.32 L205.52,471.55 L205.60,472.77 L205.68,473.99 L205.76,475.22 L205.84,476.44 L205.91,477.66 L205.97,478.89 L206.03,480.11 L206.09,481.33 L206.13,482.56 L206.18,483.78 L206.21,485.00 L206.24,486.23 L206.27,487.45 L206.28,488.67 L206.29,489.89 L206.29,491.11 L206.28,492.34 L206.26,493.56 L206.24,494.78 L206.20,496.00 L206.16,497.22 L206.10,498.43 L206.03,499.65 L205.96,500.87 L205.87,502.09 L205.77,503.30 L205.66,504.52 L205.54,505.73 L205.40,506.94 L205.26,508.16 L205.10,509.37 L204.92,510.58 L204.74,511.79 L204.50,513.00" fill="none" stroke="#111" stroke-width="2.35" stroke-linecap="round" stroke-linejoin="round"/>
<path d="M85.50,468.00 L86.71,468.08 L87.86,467.95 L89.01,467.82 L90.16,467.69 L91.31,467.56 L92.46,467.43 L93.61,467.30 L94.75,467.16 L95.90,467.03 L97.05,466.89 L98.20,466.75 L99.35,466.61 L100.50,466.47 L101.64,466.33 L102.79,466.18 L103.94,466.04 L105.09,465.89 L106.24,465.74 L107.38,465.59 L108.53,465.44 L109.68,465.29 L110.83,465.13 L111.98,464.98 L113.12,464.82 L114.27,464.66 L115.42,464.50 L116.56,464.34 L117.71,464.18 L118.86,464.01 L120.01,463.85 L121.15,463.68 L122.30,463.51 L123.45,463.34 L124.59,463.17 L125.74,463.00 L126.88,462.82 L128.03,462.65 L129.18,462.47 L130.32,462.29 L131.47,462.11 L132.61,461.93 L133.76,461.74 L134.90,461.56 L136.05,461.37 L137.19,461.19 L138.34,461.00 L139.48,460.80 L140.62,460.61 L141.77,460.42 L142.91,460.22 L144.06,460.03 L145.20,459.83 L146.34,459.63 L147.48,459.43 L148.63,459.22 L149.77,459.02 L150.91,458.81 L152.05,458.60 L153.19,458.39 L154.34,458.18 L155.48,457.97 L156.62,457.76 L157.76,457.54 L158.90,457.32 L160.04,457.11 L161.18,456.89 L162.32,456.66 L163.46,456.44 L164.60,456.22 L165.73,455.99 L166.87,455.76 L168.01,455.53 L169.15,455.30 L170.29,455.07 L171.42,454.83 L172.56,454.60 L173.70,454.36 L174.83,454.12 L175.97,453.88 L177.10,453.63 L178.24,453.39 L179.37,453.14 L180.51,452.90 L181.64,452.65 L182.77,452.40 L183.91,452.14 L185.04,451.89 L186.17,451.63 L187.31,451.38 L188.44,451.12 L189.57,450.86 L190.70,450.60 L191.83,450.33 L192.96,450.07 L194.09,449.80 L195.22,449.53 L196.35,449.26 L197.48,448.99 L198.61,448.71 L199.73,448.44 L200.86,448.16 L201.99,447.88 L203.11,447.60 L204.24,447.32 L205.36,447.03 L206.49,446.75 L207.61,446.46 L208.74,446.17 L209.86,445.88 L210.99,445.58 L212.11,445.29 L213.23,444.99 L214.35,444.70 L215.47,444.40 L216.59,444.09 L217.71,443.79 L218.83,443.49 L219.95,443.18 L221.07,442.87 L222.19,442.56 L223.31,442.25 L224.42,441.93 L225.54,441.62 L226.66,441.30 L227.77,440.98 L228.89,440.66 L230.00,440.34 L231.12,440.01 L232.23,439.69 L233.34,439.36 L234.45,439.03 L235.57,438.70 L236.68,438.36 L237.79,438.03 L238.90,437.69 L240.01,437.35 L241.12,437.01 L242.22,436.67 L243.33,436.33 L244.44,435.98 L245.54,435.63 L246.65,435.28 L247.76,434.93 L248.86,434.58 L249.96,434.22 L251.07,433.86 L252.17,433.50 L253.27,433.14 L254.37,432.78 L255.47,432.42 L256.57,432.05 L257.67,431.68 L258.77,431.31 L259.87,430.94 L260.97,430.57 L262.06,430.19 L263.16,429.81 L264.25,429.43 L265.35,429.05 L266.44,428.67 L267.54,428.28 L268.63,427.89 L269.72,427.51 L270.81,427.11 L271.90,426.72 L272.99,426.33 L274.08,425.93 L275.17,425.53 L276.26,425.13 L277.34,424.73 L278.43,424.32 L279.51,423.92 L280.60,423.51 L281.68,423.10 L282.77,422.69 L283.85,422.27 L284.93,421.86 L286.01,421.44 L287.09,421.02 L288.17,420.60 L289.25,420.17 L290.32,419.75 L291.40,419.32 L292.48,418.89 L293.55,418.46 L294.63,418.02 L295.70,417.59 L296.77,417.15 L297.84,416.71 L298.92,416.27 L299.99,415.82 L301.05,415.38 L302.12,414.93 L303.19,414.48 L304.26,414.03 L305.32,413.58 L306.39,413.12 L307.45,412.66 L308.52,412.20 L309.58,411.74 L310.64,411.28 L311.70,410.81 L312.76,410.34 L313.82,409.87 L314.88,409.40 L315.94,408.93 L316.99,408.45 L318.05,407.97 L319.10,407.49 L320.16,407.01 L321.21,406.52 L322.26,406.04 L323.31,405.55 L324.36,405.06 L325.41,404.57 L326.46,404.07 L327.50,403.57 L328.55,403.08 L329.60,402.57 L330.64,402.07 L331.68,401.57 L332.72,401.06 L333.77,400.55 L334.81,400.04 L335.85,399.52 L336.88,399.01 L337.92,398.49 L338.96,397.97 L339.99,397.45 L341.03,396.92 L342.06,396.40 L343.09,395.87 L344.12,395.34 L345.15,394.80 L346.18,394.27 L347.21,393.73 L348.24,393.19 L349.26,392.65 L350.29,392.11 L351.31,391.56 L352.34,391.01 L353.36,390.46 L354.38,389.91 L355.40,389.36 L356.42,388.80 L357.44,388.24 L358.45,387.68 L359.47,387.12 L360.48,386.55 L361.50,385.98 L362.51,385.41 L363.52,384.84 L364.53,384.27 L365.54,383.69 L366.55,383.11 L367.55,382.53 L368.56,381.95 L369.56,381.36 L370.30,380.40" fill="none" stroke="#d2343b" stroke-width="1.1"/>
<path d="M85.50,492.60 L85.99,492.64 L86.46,492.61 L86.93,492.58 L87.40,492.54 L87.87,492.51 L88.34,492.47 L88.81,492.44 L89.28,492.40 L89.75,492.36 L90.22,492.33 L90.69,492.29 L91.16,492.25 L91.63,492.21 L92.10,492.17 L92.57,492.13 L93.04,492.09 L93.51,492.05 L93.97,492.01 L94.44,491.97 L94.91,491.93 L95.38,491.89 L95.85,491.84 L96.32,491.80 L96.79,491.76 L97.26,491.71 L97.73,491.67 L98.20,491.62 L98.67,491.58 L99.14,491.53 L99.61,491.48 L100.08,491.43 L100.55,491.39 L101.02,491.34 L101.49,491.29 L101.96,491.24 L102.42,491.19 L102.89,491.14 L103.36,491.09 L103.83,491.04 L104.30,490.99 L104.77,490.93 L105.24,490.88 L105.71,490.83 L106.18,490.77 L106.65,490.72 L107.11,490.66 L107.58,490.61 L108.05,490.55 L108.52,490.50 L108.99,490.44 L109.46,490.38 L109.93,490.32 L110.40,490.27 L110.86,490.21 L111.33,490.15 L111.80,490.09 L112.27,490.03 L112.74,489.97 L113.21,489.91 L113.68,489.85 L114.14,489.78 L114.61,489.72 L115.08,489.66 L115.55,489.59 L116.02,489.53 L116.48,489.47 L116.95,489.40 L117.42,489.34 L117.89,489.27 L118.36,489.20 L118.82,489.14 L119.29,489.07 L119.76,489.00 L120.23,488.93 L120.69,488.87 L121.16,488.80 L121.63,488.73 L122.10,488.66 L122.56,488.59 L123.03,488.51 L123.50,488.44 L123.97,488.37 L124.43,488.30 L124.90,488.23 L125.37,488.15 L125.83,488.08 L126.30,488.00 L126.77,487.93 L127.24,487.85 L127.70,487.78 L128.17,487.70 L128.64,487.63 L129.10,487.55 L129.57,487.47 L130.03,487.39 L130.50,487.32 L130.97,487.24 L131.43,487.16 L131.90,487.08 L132.37,487.00 L132.83,486.92 L133.30,486.84 L133.76,486.75 L134.23,486.67 L134.69,486.59 L135.16,486.51 L135.63,486.42 L136.09,486.34 L136.56,486.26 L137.02,486.17 L137.49,486.09 L137.95,486.00 L138.42,485.91 L138.88,485.83 L139.35,485.74 L139.81,485.65 L140.28,485.56 L140.74,485.48 L141.21,485.39 L141.67,485.30 L142.13,485.21 L142.60,485.12 L143.06,485.03 L143.53,484.94 L143.99,484.85 L144.45,484.75 L144.92,484.66 L145.38,484.57 L145.85,484.48 L146.31,484.38 L146.77,484.29 L147.24,484.19 L147.70,484.10 L148.16,484.00 L148.63,483.91 L149.09,483.81 L149.55,483.71 L150.01,483.62 L150.48,483.52 L150.94,483.42 L151.40,483.32 L151.86,483.22 L152.33,483.12 L152.79,483.02 L153.25,482.92 L153.71,482.82 L154.18,482.72 L154.64,482.62 L155.10,482.52 L155.56,482.42 L156.02,482.31 L156.48,482.21 L156.94,482.11 L157.41,482.00 L157.87,481.90 L158.33,481.79 L158.79,481.69 L159.25,481.58 L159.71,481.48 L160.17,481.37 L160.63,481.26 L161.09,481.16 L161.55,481.05 L162.01,480.94 L162.47,480.83 L162.93,480.72 L163.39,480.61 L163.85,480.50 L164.31,480.39 L164.77,480.28 L165.23,480.17 L165.69,480.06 L166.15,479.95 L166.61,479.83 L167.06,479.72 L167.52,479.61 L167.98,479.49 L168.44,479.38 L168.90,479.27 L169.36,479.15 L169.81,479.04 L170.27,478.92 L170.73,478.80 L171.19,478.69 L171.64,478.57 L172.10,478.45 L172.56,478.34 L173.02,478.22 L173.47,478.10 L173.93,477.98 L174.39,477.86 L174.84,477.74 L175.30,477.62 L175.76,477.50 L176.21,477.38 L176.67,477.26 L177.12,477.13 L177.58,477.01 L178.04,476.89 L178.49,476.77 L178.95,476.64 L179.40,476.52 L179.86,476.40 L180.31,476.27 L180.77,476.15 L181.22,476.02 L181.68,475.89 L182.13,475.77 L182.58,475.64 L183.04,475.51 L183.49,475.39 L183.95,475.26 L184.40,475.13 L184.85,475.00 L185.31,474.87 L185.76,474.74 L186.21,474.61 L186.66,474.48 L187.12,474.35 L187.57,474.22 L188.02,474.09 L188.47,473.96 L188.93,473.83 L189.38,473.70 L189.83,473.56 L190.28,473.43 L190.73,473.30 L191.18,473.16 L191.64,473.03 L192.09,472.89 L192.54,472.76 L192.99,472.62 L193.44,472.49 L193.89,472.35 L194.34,472.21 L194.79,472.08 L195.24,471.94 L195.69,471.80 L196.14,471.66 L196.59,471.52 L197.04,471.38 L197.49,471.24 L197.93,471.10 L198.38,470.96 L198.83,470.82 L199.28,470.68 L199.73,470.54 L200.18,470.40 L200.62,470.26 L201.07,470.12 L201.52,469.97 L201.97,469.83 L202.41,469.69 L202.86,469.54 L203.31,469.40 L203.75,469.25 L204.20,469.11 L204.65,468.96 L205.00,468.50" fill="none" stroke="#d2343b" stroke-width="1.1"/>
<g transform="translate(263.50,270.50) rotate(42)"><rect x="-11.00" y="-4.00" width="22.00" height="8.00" fill="#fff"/><text x="0" y="4.18" font-size="12.3" fill="#2a2a2a" text-anchor="middle" textLength="21" lengthAdjust="spacingAndGlyphs">230V</text></g>
<g transform="translate(242.40,291.60) rotate(57)"><rect x="-11.00" y="-4.00" width="22.00" height="8.00" fill="#fff"/><text x="0" y="4.18" font-size="12.3" fill="#2a2a2a" text-anchor="middle" textLength="21" lengthAdjust="spacingAndGlyphs">170V</text></g>
<g transform="translate(217.80,306.80) rotate(53)"><rect x="-11.00" y="-4.00" width="22.00" height="8.00" fill="#fff"/><text x="0" y="4.18" font-size="12.3" fill="#2a2a2a" text-anchor="middle" textLength="21" lengthAdjust="spacingAndGlyphs">140V</text></g>
<g transform="translate(187.30,332.80) rotate(57)"><rect x="-11.00" y="-4.00" width="22.00" height="8.00" fill="#fff"/><text x="0" y="4.18" font-size="12.3" fill="#2a2a2a" text-anchor="middle" textLength="21" lengthAdjust="spacingAndGlyphs">115V</text></g>
<g transform="translate(145.70,454.70) rotate(-10)"><text x="0" y="3.91" font-size="11.5" fill="#d2343b" text-anchor="middle" textLength="21.5" lengthAdjust="spacingAndGlyphs">230V</text></g>
<g transform="translate(146.00,478.30) rotate(-15)"><text x="0" y="3.91" font-size="11.5" fill="#d2343b" text-anchor="middle" textLength="21.5" lengthAdjust="spacingAndGlyphs">115V</text></g>
<text x="192.50" y="233.90" font-size="12.5" fill="#4466a8" textLength="10.60" lengthAdjust="spacingAndGlyphs">53</text>
<text x="288.00" y="297.60" font-size="12.5" fill="#4466a8" textLength="10.60" lengthAdjust="spacingAndGlyphs">58</text>
<rect x="339.90" y="375.30" width="15.40" height="11.00" fill="#fff" />
<text x="341.40" y="384.80" font-size="12.5" fill="#4466a8" textLength="10.60" lengthAdjust="spacingAndGlyphs">60</text>
<rect x="367.90" y="446.70" width="15.40" height="11.00" fill="#fff" />
<text x="369.40" y="456.20" font-size="12.5" fill="#4466a8" textLength="10.60" lengthAdjust="spacingAndGlyphs">60</text>
<text x="540.30" y="217.10" font-size="17.2" font-weight="bold" fill="#222" textLength="295.00" lengthAdjust="spacingAndGlyphs">АКУСТИЧЕСКИЕ ХАРАКТЕРИСТИКИ</text>
<rect x="533.10" y="233.60" width="133.40" height="24.10" fill="#d8d9db" />
<rect x="669.00" y="233.60" width="44.50" height="24.10" fill="#d8d9db" />
<rect x="715.03" y="233.60" width="44.50" height="24.10" fill="#d8d9db" />
<rect x="761.06" y="233.60" width="44.50" height="24.10" fill="#d8d9db" />
<rect x="807.09" y="233.60" width="44.50" height="24.10" fill="#d8d9db" />
<rect x="853.12" y="233.60" width="44.50" height="24.10" fill="#d8d9db" />
<rect x="899.15" y="233.60" width="44.50" height="24.10" fill="#d8d9db" />
<rect x="945.18" y="233.60" width="44.50" height="24.10" fill="#d8d9db" />
<rect x="991.21" y="233.60" width="44.50" height="24.10" fill="#d8d9db" />
<text x="538.70" y="250.90" font-size="13.4" font-weight="bold" fill="#222" textLength="61.60" lengthAdjust="spacingAndGlyphs">ILB/4-250</text>
<text x="691.25" y="250.90" font-size="13.2" font-weight="bold" fill="#222" text-anchor="middle" textLength="13.80" lengthAdjust="spacingAndGlyphs">63</text>
<text x="737.28" y="250.90" font-size="13.2" font-weight="bold" fill="#222" text-anchor="middle" textLength="20.80" lengthAdjust="spacingAndGlyphs">125</text>
<text x="783.31" y="250.90" font-size="13.2" font-weight="bold" fill="#222" text-anchor="middle" textLength="20.80" lengthAdjust="spacingAndGlyphs">250</text>
<text x="829.34" y="250.90" font-size="13.2" font-weight="bold" fill="#222" text-anchor="middle" textLength="20.80" lengthAdjust="spacingAndGlyphs">500</text>
<text x="875.37" y="250.90" font-size="13.2" font-weight="bold" fill="#222" text-anchor="middle" textLength="32.60" lengthAdjust="spacingAndGlyphs">1.000</text>
<text x="921.40" y="250.90" font-size="13.2" font-weight="bold" fill="#222" text-anchor="middle" textLength="32.60" lengthAdjust="spacingAndGlyphs">2.000</text>
<text x="967.43" y="250.90" font-size="13.2" font-weight="bold" fill="#222" text-anchor="middle" textLength="32.60" lengthAdjust="spacingAndGlyphs">4.000</text>
<text x="1013.46" y="250.90" font-size="13.2" font-weight="bold" fill="#222" text-anchor="middle" textLength="32.60" lengthAdjust="spacingAndGlyphs">8.000</text>
<rect x="533.10" y="259.80" width="105.80" height="76.98" fill="#d8d9db" />
<text x="538.30" y="303.12" font-size="13.6" fill="#333" textLength="47.60" lengthAdjust="spacingAndGlyphs">К входу</text>
<rect x="641.20" y="259.80" width="25.40" height="18.00" fill="#d8d9db" />
<text x="654.20" y="273.80" font-size="14.2" fill="#333" text-anchor="middle" textLength="8.20" lengthAdjust="spacingAndGlyphs">A</text>
<rect x="669.00" y="259.80" width="44.50" height="18.00" fill="#d8d9db" />
<text x="691.25" y="273.80" font-size="14.2" fill="#333" text-anchor="middle" textLength="13.80" lengthAdjust="spacingAndGlyphs">55</text>
<rect x="715.03" y="259.80" width="44.50" height="18.00" fill="#d8d9db" />
<text x="737.28" y="273.80" font-size="14.2" fill="#333" text-anchor="middle" textLength="13.80" lengthAdjust="spacingAndGlyphs">67</text>
<rect x="761.06" y="259.80" width="44.50" height="18.00" fill="#d8d9db" />
<text x="783.31" y="273.80" font-size="14.2" fill="#333" text-anchor="middle" textLength="13.80" lengthAdjust="spacingAndGlyphs">69</text>
<rect x="807.09" y="259.80" width="44.50" height="18.00" fill="#d8d9db" />
<text x="829.34" y="273.80" font-size="14.2" fill="#333" text-anchor="middle" textLength="13.80" lengthAdjust="spacingAndGlyphs">74</text>
<rect x="853.12" y="259.80" width="44.50" height="18.00" fill="#d8d9db" />
<text x="875.37" y="273.80" font-size="14.2" fill="#333" text-anchor="middle" textLength="13.80" lengthAdjust="spacingAndGlyphs">75</text>
<rect x="899.15" y="259.80" width="44.50" height="18.00" fill="#d8d9db" />
<text x="921.40" y="273.80" font-size="14.2" fill="#333" text-anchor="middle" textLength="13.80" lengthAdjust="spacingAndGlyphs">74</text>
<rect x="945.18" y="259.80" width="44.50" height="18.00" fill="#d8d9db" />
<text x="967.43" y="273.80" font-size="14.2" fill="#333" text-anchor="middle" textLength="13.80" lengthAdjust="spacingAndGlyphs">69</text>
<rect x="991.21" y="259.80" width="44.50" height="18.00" fill="#d8d9db" />
<text x="1013.46" y="273.80" font-size="14.2" fill="#333" text-anchor="middle" textLength="13.80" lengthAdjust="spacingAndGlyphs">60</text>
<rect x="641.20" y="279.46" width="25.40" height="18.00" fill="#d8d9db" />
<text x="654.20" y="293.46" font-size="14.2" fill="#333" text-anchor="middle" textLength="8.20" lengthAdjust="spacingAndGlyphs">B</text>
<rect x="669.00" y="279.46" width="44.50" height="18.00" fill="#d8d9db" />
<text x="691.25" y="293.46" font-size="14.2" fill="#333" text-anchor="middle" textLength="13.80" lengthAdjust="spacingAndGlyphs">55</text>
<rect x="715.03" y="279.46" width="44.50" height="18.00" fill="#d8d9db" />
<text x="737.28" y="293.46" font-size="14.2" fill="#333" text-anchor="middle" textLength="13.80" lengthAdjust="spacingAndGlyphs">67</text>
<rect x="761.06" y="279.46" width="44.50" height="18.00" fill="#d8d9db" />
<text x="783.31" y="293.46" font-size="14.2" fill="#333" text-anchor="middle" textLength="13.80" lengthAdjust="spacingAndGlyphs">69</text>
<rect x="807.09" y="279.46" width="44.50" height="18.00" fill="#d8d9db" />
<text x="829.34" y="293.46" font-size="14.2" fill="#333" text-anchor="middle" textLength="13.80" lengthAdjust="spacingAndGlyphs">74</text>
<rect x="853.12" y="279.46" width="44.50" height="18.00" fill="#d8d9db" />
<text x="875.37" y="293.46" font-size="14.2" fill="#333" text-anchor="middle" textLength="13.80" lengthAdjust="spacingAndGlyphs">75</text>
<rect x="899.15" y="279.46" width="44.50" height="18.00" fill="#d8d9db" />
<text x="921.40" y="293.46" font-size="14.2" fill="#333" text-anchor="middle" textLength="13.80" lengthAdjust="spacingAndGlyphs">74</text>
<rect x="945.18" y="279.46" width="44.50" height="18.00" fill="#d8d9db" />
<text x="967.43" y="293.46" font-size="14.2" fill="#333" text-anchor="middle" textLength="13.80" lengthAdjust="spacingAndGlyphs">69</text>
<rect x="991.21" y="279.46" width="44.50" height="18.00" fill="#d8d9db" />
<text x="1013.46" y="293.46" font-size="14.2" fill="#333" text-anchor="middle" textLength="13.80" lengthAdjust="spacingAndGlyphs">60</text>
<rect x="641.20" y="299.12" width="25.40" height="18.00" fill="#d8d9db" />
<text x="654.20" y="313.12" font-size="14.2" fill="#333" text-anchor="middle" textLength="8.20" lengthAdjust="spacingAndGlyphs">C</text>
<rect x="669.00" y="299.12" width="44.50" height="18.00" fill="#d8d9db" />
<text x="691.25" y="313.12" font-size="14.2" fill="#333" text-anchor="middle" textLength="13.80" lengthAdjust="spacingAndGlyphs">53</text>
<rect x="715.03" y="299.12" width="44.50" height="18.00" fill="#d8d9db" />
<text x="737.28" y="313.12" font-size="14.2" fill="#333" text-anchor="middle" textLength="13.80" lengthAdjust="spacingAndGlyphs">65</text>
<rect x="761.06" y="299.12" width="44.50" height="18.00" fill="#d8d9db" />
<text x="783.31" y="313.12" font-size="14.2" fill="#333" text-anchor="middle" textLength="13.80" lengthAdjust="spacingAndGlyphs">67</text>
<rect x="807.09" y="299.12" width="44.50" height="18.00" fill="#d8d9db" />
<text x="829.34" y="313.12" font-size="14.2" fill="#333" text-anchor="middle" textLength="13.80" lengthAdjust="spacingAndGlyphs">72</text>
<rect x="853.12" y="299.12" width="44.50" height="18.00" fill="#d8d9db" />
<text x="875.37" y="313.12" font-size="14.2" fill="#333" text-anchor="middle" textLength="13.80" lengthAdjust="spacingAndGlyphs">73</text>
<rect x="899.15" y="299.12" width="44.50" height="18.00" fill="#d8d9db" />
<text x="921.40" y="313.12" font-size="14.2" fill="#333" text-anchor="middle" textLength="13.80" lengthAdjust="spacingAndGlyphs">72</text>
<rect x="945.18" y="299.12" width="44.50" height="18.00" fill="#d8d9db" />
<text x="967.43" y="313.12" font-size="14.2" fill="#333" text-anchor="middle" textLength="13.80" lengthAdjust="spacingAndGlyphs">67</text>
<rect x="991.21" y="299.12" width="44.50" height="18.00" fill="#d8d9db" />
<text x="1013.46" y="313.12" font-size="14.2" fill="#333" text-anchor="middle" textLength="13.80" lengthAdjust="spacingAndGlyphs">58</text>
<rect x="641.20" y="318.78" width="25.40" height="18.00" fill="#d8d9db" />
<text x="654.20" y="332.78" font-size="14.2" fill="#333" text-anchor="middle" textLength="8.20" lengthAdjust="spacingAndGlyphs">D</text>
<rect x="669.00" y="318.78" width="44.50" height="18.00" fill="#d8d9db" />
<text x="691.25" y="332.78" font-size="14.2" fill="#333" text-anchor="middle" textLength="13.80" lengthAdjust="spacingAndGlyphs">49</text>
<rect x="715.03" y="318.78" width="44.50" height="18.00" fill="#d8d9db" />
<text x="737.28" y="332.78" font-size="14.2" fill="#333" text-anchor="middle" textLength="13.80" lengthAdjust="spacingAndGlyphs">61</text>
<rect x="761.06" y="318.78" width="44.50" height="18.00" fill="#d8d9db" />
<text x="783.31" y="332.78" font-size="14.2" fill="#333" text-anchor="middle" textLength="13.80" lengthAdjust="spacingAndGlyphs">63</text>
<rect x="807.09" y="318.78" width="44.50" height="18.00" fill="#d8d9db" />
<text x="829.34" y="332.78" font-size="14.2" fill="#333" text-anchor="middle" textLength="13.80" lengthAdjust="spacingAndGlyphs">68</text>
<rect x="853.12" y="318.78" width="44.50" height="18.00" fill="#d8d9db" />
<text x="875.37" y="332.78" font-size="14.2" fill="#333" text-anchor="middle" textLength="13.80" lengthAdjust="spacingAndGlyphs">69</text>
<rect x="899.15" y="318.78" width="44.50" height="18.00" fill="#d8d9db" />
<text x="921.40" y="332.78" font-size="14.2" fill="#333" text-anchor="middle" textLength="13.80" lengthAdjust="spacingAndGlyphs">68</text>
<rect x="945.18" y="318.78" width="44.50" height="18.00" fill="#d8d9db" />
<text x="967.43" y="332.78" font-size="14.2" fill="#333" text-anchor="middle" textLength="13.80" lengthAdjust="spacingAndGlyphs">63</text>
<rect x="991.21" y="318.78" width="44.50" height="18.00" fill="#d8d9db" />
<text x="1013.46" y="332.78" font-size="14.2" fill="#333" text-anchor="middle" textLength="13.80" lengthAdjust="spacingAndGlyphs">54</text>
<rect x="533.10" y="338.44" width="105.80" height="76.98" fill="#d8d9db" />
<text x="538.30" y="381.76" font-size="13.6" fill="#333" textLength="57.20" lengthAdjust="spacingAndGlyphs">К выходу</text>
<rect x="641.20" y="338.44" width="25.40" height="18.00" fill="#d8d9db" />
<text x="654.20" y="352.44" font-size="14.2" fill="#333" text-anchor="middle" textLength="8.20" lengthAdjust="spacingAndGlyphs">A</text>
<rect x="669.00" y="338.44" width="44.50" height="18.00" fill="#d8d9db" />
<text x="691.25" y="352.44" font-size="14.2" fill="#333" text-anchor="middle" textLength="13.80" lengthAdjust="spacingAndGlyphs">51</text>
<rect x="715.03" y="338.44" width="44.50" height="18.00" fill="#d8d9db" />
<text x="737.28" y="352.44" font-size="14.2" fill="#333" text-anchor="middle" textLength="13.80" lengthAdjust="spacingAndGlyphs">66</text>
<rect x="761.06" y="338.44" width="44.50" height="18.00" fill="#d8d9db" />
<text x="783.31" y="352.44" font-size="14.2" fill="#333" text-anchor="middle" textLength="13.80" lengthAdjust="spacingAndGlyphs">68</text>
<rect x="807.09" y="338.44" width="44.50" height="18.00" fill="#d8d9db" />
<text x="829.34" y="352.44" font-size="14.2" fill="#333" text-anchor="middle" textLength="13.80" lengthAdjust="spacingAndGlyphs">76</text>
<rect x="853.12" y="338.44" width="44.50" height="18.00" fill="#d8d9db" />
<text x="875.37" y="352.44" font-size="14.2" fill="#333" text-anchor="middle" textLength="13.80" lengthAdjust="spacingAndGlyphs">79</text>
<rect x="899.15" y="338.44" width="44.50" height="18.00" fill="#d8d9db" />
<text x="921.40" y="352.44" font-size="14.2" fill="#333" text-anchor="middle" textLength="13.80" lengthAdjust="spacingAndGlyphs">78</text>
<rect x="945.18" y="338.44" width="44.50" height="18.00" fill="#d8d9db" />
<text x="967.43" y="352.44" font-size="14.2" fill="#333" text-anchor="middle" textLength="13.80" lengthAdjust="spacingAndGlyphs">75</text>
<rect x="991.21" y="338.44" width="44.50" height="18.00" fill="#d8d9db" />
<text x="1013.46" y="352.44" font-size="14.2" fill="#333" text-anchor="middle" textLength="13.80" lengthAdjust="spacingAndGlyphs">68</text>
<rect x="641.20" y="358.10" width="25.40" height="18.00" fill="#d8d9db" />
<text x="654.20" y="372.10" font-size="14.2" fill="#333" text-anchor="middle" textLength="8.20" lengthAdjust="spacingAndGlyphs">B</text>
<rect x="669.00" y="358.10" width="44.50" height="18.00" fill="#d8d9db" />
<text x="691.25" y="372.10" font-size="14.2" fill="#333" text-anchor="middle" textLength="13.80" lengthAdjust="spacingAndGlyphs">52</text>
<rect x="715.03" y="358.10" width="44.50" height="18.00" fill="#d8d9db" />
<text x="737.28" y="372.10" font-size="14.2" fill="#333" text-anchor="middle" textLength="13.80" lengthAdjust="spacingAndGlyphs">67</text>
<rect x="761.06" y="358.10" width="44.50" height="18.00" fill="#d8d9db" />
<text x="783.31" y="372.10" font-size="14.2" fill="#333" text-anchor="middle" textLength="13.80" lengthAdjust="spacingAndGlyphs">69</text>
<rect x="807.09" y="358.10" width="44.50" height="18.00" fill="#d8d9db" />
<text x="829.34" y="372.10" font-size="14.2" fill="#333" text-anchor="middle" textLength="13.80" lengthAdjust="spacingAndGlyphs">77</text>
<rect x="853.12" y="358.10" width="44.50" height="18.00" fill="#d8d9db" />
<text x="875.37" y="372.10" font-size="14.2" fill="#333" text-anchor="middle" textLength="13.80" lengthAdjust="spacingAndGlyphs">80</text>
<rect x="899.15" y="358.10" width="44.50" height="18.00" fill="#d8d9db" />
<text x="921.40" y="372.10" font-size="14.2" fill="#333" text-anchor="middle" textLength="13.80" lengthAdjust="spacingAndGlyphs">79</text>
<rect x="945.18" y="358.10" width="44.50" height="18.00" fill="#d8d9db" />
<text x="967.43" y="372.10" font-size="14.2" fill="#333" text-anchor="middle" textLength="13.80" lengthAdjust="spacingAndGlyphs">76</text>
<rect x="991.21" y="358.10" width="44.50" height="18.00" fill="#d8d9db" />
<text x="1013.46" y="372.10" font-size="14.2" fill="#333" text-anchor="middle" textLength="13.80" lengthAdjust="spacingAndGlyphs">69</text>
<rect x="641.20" y="377.76" width="25.40" height="18.00" fill="#d8d9db" />
<text x="654.20" y="391.76" font-size="14.2" fill="#333" text-anchor="middle" textLength="8.20" lengthAdjust="spacingAndGlyphs">C</text>
<rect x="669.00" y="377.76" width="44.50" height="18.00" fill="#d8d9db" />
<text x="691.25" y="391.76" font-size="14.2" fill="#333" text-anchor="middle" textLength="13.80" lengthAdjust="spacingAndGlyphs">50</text>
<rect x="715.03" y="377.76" width="44.50" height="18.00" fill="#d8d9db" />
<text x="737.28" y="391.76" font-size="14.2" fill="#333" text-anchor="middle" textLength="13.80" lengthAdjust="spacingAndGlyphs">65</text>
<rect x="761.06" y="377.76" width="44.50" height="18.00" fill="#d8d9db" />
<text x="783.31" y="391.76" font-size="14.2" fill="#333" text-anchor="middle" textLength="13.80" lengthAdjust="spacingAndGlyphs">67</text>
<rect x="807.09" y="377.76" width="44.50" height="18.00" fill="#d8d9db" />
<text x="829.34" y="391.76" font-size="14.2" fill="#333" text-anchor="middle" textLength="13.80" lengthAdjust="spacingAndGlyphs">75</text>
<rect x="853.12" y="377.76" width="44.50" height="18.00" fill="#d8d9db" />
<text x="875.37" y="391.76" font-size="14.2" fill="#333" text-anchor="middle" textLength="13.80" lengthAdjust="spacingAndGlyphs">78</text>
<rect x="899.15" y="377.76" width="44.50" height="18.00" fill="#d8d9db" />
<text x="921.40" y="391.76" font-size="14.2" fill="#333" text-anchor="middle" textLength="13.80" lengthAdjust="spacingAndGlyphs">77</text>
<rect x="945.18" y="377.76" width="44.50" height="18.00" fill="#d8d9db" />
<text x="967.43" y="391.76" font-size="14.2" fill="#333" text-anchor="middle" textLength="13.80" lengthAdjust="spacingAndGlyphs">74</text>
<rect x="991.21" y="377.76" width="44.50" height="18.00" fill="#d8d9db" />
<text x="1013.46" y="391.76" font-size="14.2" fill="#333" text-anchor="middle" textLength="13.80" lengthAdjust="spacingAndGlyphs">67</text>
<rect x="641.20" y="397.42" width="25.40" height="18.00" fill="#d8d9db" />
<text x="654.20" y="411.42" font-size="14.2" fill="#333" text-anchor="middle" textLength="8.20" lengthAdjust="spacingAndGlyphs">D</text>
<rect x="669.00" y="397.42" width="44.50" height="18.00" fill="#d8d9db" />
<text x="691.25" y="411.42" font-size="14.2" fill="#333" text-anchor="middle" textLength="13.80" lengthAdjust="spacingAndGlyphs">46</text>
<rect x="715.03" y="397.42" width="44.50" height="18.00" fill="#d8d9db" />
<text x="737.28" y="411.42" font-size="14.2" fill="#333" text-anchor="middle" textLength="13.80" lengthAdjust="spacingAndGlyphs">61</text>
<rect x="761.06" y="397.42" width="44.50" height="18.00" fill="#d8d9db" />
<text x="783.31" y="411.42" font-size="14.2" fill="#333" text-anchor="middle" textLength="13.80" lengthAdjust="spacingAndGlyphs">63</text>
<rect x="807.09" y="397.42" width="44.50" height="18.00" fill="#d8d9db" />
<text x="829.34" y="411.42" font-size="14.2" fill="#333" text-anchor="middle" textLength="13.80" lengthAdjust="spacingAndGlyphs">71</text>
<rect x="853.12" y="397.42" width="44.50" height="18.00" fill="#d8d9db" />
<text x="875.37" y="411.42" font-size="14.2" fill="#333" text-anchor="middle" textLength="13.80" lengthAdjust="spacingAndGlyphs">74</text>
<rect x="899.15" y="397.42" width="44.50" height="18.00" fill="#d8d9db" />
<text x="921.40" y="411.42" font-size="14.2" fill="#333" text-anchor="middle" textLength="13.80" lengthAdjust="spacingAndGlyphs">73</text>
<rect x="945.18" y="397.42" width="44.50" height="18.00" fill="#d8d9db" />
<text x="967.43" y="411.42" font-size="14.2" fill="#333" text-anchor="middle" textLength="13.80" lengthAdjust="spacingAndGlyphs">70</text>
<rect x="991.21" y="397.42" width="44.50" height="18.00" fill="#d8d9db" />
<text x="1013.46" y="411.42" font-size="14.2" fill="#333" text-anchor="middle" textLength="13.80" lengthAdjust="spacingAndGlyphs">63</text>
<rect x="533.10" y="417.08" width="105.80" height="76.98" fill="#d8d9db" />
<text x="538.30" y="460.40" font-size="13.6" fill="#333" textLength="82.40" lengthAdjust="spacingAndGlyphs">К окружению</text>
<rect x="641.20" y="417.08" width="25.40" height="18.00" fill="#d8d9db" />
<text x="654.20" y="431.08" font-size="14.2" fill="#333" text-anchor="middle" textLength="8.20" lengthAdjust="spacingAndGlyphs">A</text>
<rect x="669.00" y="417.08" width="44.50" height="18.00" fill="#d8d9db" />
<text x="691.25" y="431.08" font-size="14.2" fill="#333" text-anchor="middle" textLength="13.80" lengthAdjust="spacingAndGlyphs">56</text>
<rect x="715.03" y="417.08" width="44.50" height="18.00" fill="#d8d9db" />
<text x="737.28" y="431.08" font-size="14.2" fill="#333" text-anchor="middle" textLength="13.80" lengthAdjust="spacingAndGlyphs">61</text>
<rect x="761.06" y="417.08" width="44.50" height="18.00" fill="#d8d9db" />
<text x="783.31" y="431.08" font-size="14.2" fill="#333" text-anchor="middle" textLength="13.80" lengthAdjust="spacingAndGlyphs">61</text>
<rect x="807.09" y="417.08" width="44.50" height="18.00" fill="#d8d9db" />
<text x="829.34" y="431.08" font-size="14.2" fill="#333" text-anchor="middle" textLength="13.80" lengthAdjust="spacingAndGlyphs">64</text>
<rect x="853.12" y="417.08" width="44.50" height="18.00" fill="#d8d9db" />
<text x="875.37" y="431.08" font-size="14.2" fill="#333" text-anchor="middle" textLength="13.80" lengthAdjust="spacingAndGlyphs">65</text>
<rect x="899.15" y="417.08" width="44.50" height="18.00" fill="#d8d9db" />
<text x="921.40" y="431.08" font-size="14.2" fill="#333" text-anchor="middle" textLength="13.80" lengthAdjust="spacingAndGlyphs">64</text>
<rect x="945.18" y="417.08" width="44.50" height="18.00" fill="#d8d9db" />
<text x="967.43" y="431.08" font-size="14.2" fill="#333" text-anchor="middle" textLength="13.80" lengthAdjust="spacingAndGlyphs">60</text>
<rect x="991.21" y="417.08" width="44.50" height="18.00" fill="#d8d9db" />
<text x="1013.46" y="431.08" font-size="14.2" fill="#333" text-anchor="middle" textLength="13.80" lengthAdjust="spacingAndGlyphs">51</text>
<rect x="641.20" y="436.74" width="25.40" height="18.00" fill="#d8d9db" />
<text x="654.20" y="450.74" font-size="14.2" fill="#333" text-anchor="middle" textLength="8.20" lengthAdjust="spacingAndGlyphs">B</text>
<rect x="669.00" y="436.74" width="44.50" height="18.00" fill="#d8d9db" />
<text x="691.25" y="450.74" font-size="14.2" fill="#333" text-anchor="middle" textLength="13.80" lengthAdjust="spacingAndGlyphs">56</text>
<rect x="715.03" y="436.74" width="44.50" height="18.00" fill="#d8d9db" />
<text x="737.28" y="450.74" font-size="14.2" fill="#333" text-anchor="middle" textLength="13.80" lengthAdjust="spacingAndGlyphs">61</text>
<rect x="761.06" y="436.74" width="44.50" height="18.00" fill="#d8d9db" />
<text x="783.31" y="450.74" font-size="14.2" fill="#333" text-anchor="middle" textLength="13.80" lengthAdjust="spacingAndGlyphs">61</text>
<rect x="807.09" y="436.74" width="44.50" height="18.00" fill="#d8d9db" />
<text x="829.34" y="450.74" font-size="14.2" fill="#333" text-anchor="middle" textLength="13.80" lengthAdjust="spacingAndGlyphs">64</text>
<rect x="853.12" y="436.74" width="44.50" height="18.00" fill="#d8d9db" />
<text x="875.37" y="450.74" font-size="14.2" fill="#333" text-anchor="middle" textLength="13.80" lengthAdjust="spacingAndGlyphs">65</text>
<rect x="899.15" y="436.74" width="44.50" height="18.00" fill="#d8d9db" />
<text x="921.40" y="450.74" font-size="14.2" fill="#333" text-anchor="middle" textLength="13.80" lengthAdjust="spacingAndGlyphs">64</text>
<rect x="945.18" y="436.74" width="44.50" height="18.00" fill="#d8d9db" />
<text x="967.43" y="450.74" font-size="14.2" fill="#333" text-anchor="middle" textLength="13.80" lengthAdjust="spacingAndGlyphs">60</text>
<rect x="991.21" y="436.74" width="44.50" height="18.00" fill="#d8d9db" />
<text x="1013.46" y="450.74" font-size="14.2" fill="#333" text-anchor="middle" textLength="13.80" lengthAdjust="spacingAndGlyphs">51</text>
<rect x="641.20" y="456.40" width="25.40" height="18.00" fill="#d8d9db" />
<text x="654.20" y="470.40" font-size="14.2" fill="#333" text-anchor="middle" textLength="8.20" lengthAdjust="spacingAndGlyphs">C</text>
<rect x="669.00" y="456.40" width="44.50" height="18.00" fill="#d8d9db" />
<text x="691.25" y="470.40" font-size="14.2" fill="#333" text-anchor="middle" textLength="13.80" lengthAdjust="spacingAndGlyphs">54</text>
<rect x="715.03" y="456.40" width="44.50" height="18.00" fill="#d8d9db" />
<text x="737.28" y="470.40" font-size="14.2" fill="#333" text-anchor="middle" textLength="13.80" lengthAdjust="spacingAndGlyphs">59</text>
<rect x="761.06" y="456.40" width="44.50" height="18.00" fill="#d8d9db" />
<text x="783.31" y="470.40" font-size="14.2" fill="#333" text-anchor="middle" textLength="13.80" lengthAdjust="spacingAndGlyphs">59</text>
<rect x="807.09" y="456.40" width="44.50" height="18.00" fill="#d8d9db" />
<text x="829.34" y="470.40" font-size="14.2" fill="#333" text-anchor="middle" textLength="13.80" lengthAdjust="spacingAndGlyphs">62</text>
<rect x="853.12" y="456.40" width="44.50" height="18.00" fill="#d8d9db" />
<text x="875.37" y="470.40" font-size="14.2" fill="#333" text-anchor="middle" textLength="13.80" lengthAdjust="spacingAndGlyphs">63</text>
<rect x="899.15" y="456.40" width="44.50" height="18.00" fill="#d8d9db" />
<text x="921.40" y="470.40" font-size="14.2" fill="#333" text-anchor="middle" textLength="13.80" lengthAdjust="spacingAndGlyphs">62</text>
<rect x="945.18" y="456.40" width="44.50" height="18.00" fill="#d8d9db" />
<text x="967.43" y="470.40" font-size="14.2" fill="#333" text-anchor="middle" textLength="13.80" lengthAdjust="spacingAndGlyphs">58</text>
<rect x="991.21" y="456.40" width="44.50" height="18.00" fill="#d8d9db" />
<text x="1013.46" y="470.40" font-size="14.2" fill="#333" text-anchor="middle" textLength="13.80" lengthAdjust="spacingAndGlyphs">49</text>
<rect x="641.20" y="476.06" width="25.40" height="18.00" fill="#d8d9db" />
<text x="654.20" y="490.06" font-size="14.2" fill="#333" text-anchor="middle" textLength="8.20" lengthAdjust="spacingAndGlyphs">D</text>
<rect x="669.00" y="476.06" width="44.50" height="18.00" fill="#d8d9db" />
<text x="691.25" y="490.06" font-size="14.2" fill="#333" text-anchor="middle" textLength="13.80" lengthAdjust="spacingAndGlyphs">49</text>
<rect x="715.03" y="476.06" width="44.50" height="18.00" fill="#d8d9db" />
<text x="737.28" y="490.06" font-size="14.2" fill="#333" text-anchor="middle" textLength="13.80" lengthAdjust="spacingAndGlyphs">54</text>
<rect x="761.06" y="476.06" width="44.50" height="18.00" fill="#d8d9db" />
<text x="783.31" y="490.06" font-size="14.2" fill="#333" text-anchor="middle" textLength="13.80" lengthAdjust="spacingAndGlyphs">54</text>
<rect x="807.09" y="476.06" width="44.50" height="18.00" fill="#d8d9db" />
<text x="829.34" y="490.06" font-size="14.2" fill="#333" text-anchor="middle" textLength="13.80" lengthAdjust="spacingAndGlyphs">57</text>
<rect x="853.12" y="476.06" width="44.50" height="18.00" fill="#d8d9db" />
<text x="875.37" y="490.06" font-size="14.2" fill="#333" text-anchor="middle" textLength="13.80" lengthAdjust="spacingAndGlyphs">58</text>
<rect x="899.15" y="476.06" width="44.50" height="18.00" fill="#d8d9db" />
<text x="921.40" y="490.06" font-size="14.2" fill="#333" text-anchor="middle" textLength="13.80" lengthAdjust="spacingAndGlyphs">57</text>
<rect x="945.18" y="476.06" width="44.50" height="18.00" fill="#d8d9db" />
<text x="967.43" y="490.06" font-size="14.2" fill="#333" text-anchor="middle" textLength="13.80" lengthAdjust="spacingAndGlyphs">53</text>
<rect x="991.21" y="476.06" width="44.50" height="18.00" fill="#d8d9db" />
<text x="1013.46" y="490.06" font-size="14.2" fill="#333" text-anchor="middle" textLength="13.80" lengthAdjust="spacingAndGlyphs">44</text>
<text x="62.10" y="617.10" font-size="17.2" font-weight="bold" fill="#222" textLength="122.30" lengthAdjust="spacingAndGlyphs">РАЗМЕРЫ (мм)</text>
<rect x="49.00" y="629.00" width="331.00" height="424.60" fill="#e6e6e8" />
<line x1="87.80" y1="650.90" x2="242.40" y2="650.90" stroke="#808080" stroke-width="1.3" />
<line x1="87.80" y1="660.20" x2="242.40" y2="660.20" stroke="#5a5a5a" stroke-width="1.2" />
<line x1="87.80" y1="743.10" x2="242.40" y2="743.10" stroke="#808080" stroke-width="1.3" />
<line x1="87.80" y1="752.50" x2="242.40" y2="752.50" stroke="#2f2f2f" stroke-width="1.1" />
<line x1="72.50" y1="666.40" x2="72.50" y2="736.30" stroke="#808080" stroke-width="1.2" />
<line x1="81.50" y1="666.40" x2="81.50" y2="736.30" stroke="#5a5a5a" stroke-width="1.1" />
<line x1="248.40" y1="666.40" x2="248.40" y2="736.30" stroke="#808080" stroke-width="1.2" />
<line x1="257.40" y1="666.40" x2="257.40" y2="736.30" stroke="#808080" stroke-width="1.2" />
<line x1="81.50" y1="682.20" x2="248.40" y2="682.20" stroke="#5a5a5a" stroke-width="1.1" />
<line x1="164.50" y1="682.20" x2="164.50" y2="743.10" stroke="#5a5a5a" stroke-width="1.0" />
<line x1="164.50" y1="698.60" x2="190.50" y2="698.60" stroke="#999" stroke-width="1.4" />
<path d="M196.8,682.2 Q190.5,683 190.5,689 L190.5,701.6" fill="none" stroke="#2f2f2f" stroke-width="1"/>
<rect x="164.5" y="701.6" width="34.5" height="38.6" fill="none" stroke="#5a5a5a" stroke-width="1"/>
<line x1="164.50" y1="701.60" x2="199.00" y2="701.60" stroke="#2f2f2f" stroke-width="1.1" />
<line x1="170.40" y1="701.60" x2="170.40" y2="740.20" stroke="#2f2f2f" stroke-width="1.1" />
<line x1="182.70" y1="701.60" x2="182.70" y2="740.20" stroke="#5a5a5a" stroke-width="1.0" />
<line x1="191.60" y1="701.60" x2="191.60" y2="740.20" stroke="#2f2f2f" stroke-width="1.0" />
<line x1="199.00" y1="701.60" x2="199.00" y2="740.20" stroke="#999" stroke-width="1.3" />
<path transform="translate(70.5,649.3)" d="M0,4.4 A4.4,4.4 0 0 1 4.4,0 H17.2 V11.600000000000001 A5.5,5.5 0 0 0 11.7,17.1 H0 Z" fill="#ebebed" stroke="#2f2f2f" stroke-width="1.1"/>
<path transform="translate(259.3,649.3) scale(-1,1)" d="M0,4.4 A4.4,4.4 0 0 1 4.4,0 H17.2 V11.600000000000001 A5.5,5.5 0 0 0 11.7,17.1 H0 Z" fill="#ebebed" stroke="#2f2f2f" stroke-width="1.1"/>
<path transform="translate(70.5,753.6) scale(1,-1)" d="M0,4.4 A4.4,4.4 0 0 1 4.4,0 H17.2 V11.600000000000001 A5.5,5.5 0 0 0 11.7,17.1 H0 Z" fill="#ebebed" stroke="#2f2f2f" stroke-width="1.1"/>
<path transform="translate(259.3,753.6) scale(-1,-1)" d="M0,4.4 A4.4,4.4 0 0 1 4.4,0 H17.2 V11.600000000000001 A5.5,5.5 0 0 0 11.7,17.1 H0 Z" fill="#ebebed" stroke="#2f2f2f" stroke-width="1.1"/>
<line x1="228.20" y1="655.30" x2="333.00" y2="655.30" stroke="#2f2f2f" stroke-width="1.0" stroke-dasharray="13.6 6.4" stroke-dashoffset="0"/>
<line x1="229.00" y1="747.40" x2="334.40" y2="747.40" stroke="#2f2f2f" stroke-width="1.0" stroke-dasharray="13.6 6.4" stroke-dashoffset="0"/>
<line x1="76.40" y1="726.80" x2="76.40" y2="820.80" stroke="#2f2f2f" stroke-width="1.0" stroke-dasharray="13.5 6.5" stroke-dashoffset="0"/>
<line x1="254.60" y1="726.80" x2="254.60" y2="820.80" stroke="#2f2f2f" stroke-width="1.0" stroke-dasharray="13.5 6.5" stroke-dashoffset="0"/>
<line x1="259.20" y1="650.30" x2="357.60" y2="650.30" stroke="#2f2f2f" stroke-width="1.0" />
<line x1="259.50" y1="660.40" x2="298.00" y2="660.40" stroke="#2f2f2f" stroke-width="1.0" />
<line x1="259.50" y1="742.30" x2="297.00" y2="742.30" stroke="#2f2f2f" stroke-width="1.0" />
<line x1="259.20" y1="751.30" x2="356.60" y2="751.30" stroke="#2f2f2f" stroke-width="1.0" />
<line x1="72.50" y1="753.60" x2="72.50" y2="849.10" stroke="#2f2f2f" stroke-width="1.0" />
<line x1="258.60" y1="753.60" x2="258.60" y2="849.10" stroke="#2f2f2f" stroke-width="1.0" />
<line x1="81.50" y1="754.80" x2="81.50" y2="794.50" stroke="#2f2f2f" stroke-width="1.0" />
<line x1="249.10" y1="755.00" x2="249.10" y2="794.50" stroke="#808080" stroke-width="1.2" />
<line x1="291.60" y1="660.40" x2="291.60" y2="742.30" stroke="#2f2f2f" stroke-width="1.0" />
<path d="M291.60,742.30 L289.50,736.30 L293.70,736.30 Z" fill="#2f2f2f"/>
<path d="M291.60,660.40 L293.70,666.40 L289.50,666.40 Z" fill="#2f2f2f"/>
<line x1="323.80" y1="655.30" x2="323.80" y2="747.40" stroke="#2f2f2f" stroke-width="1.0" />
<path d="M323.80,747.40 L321.70,741.40 L325.90,741.40 Z" fill="#2f2f2f"/>
<path d="M323.80,655.30 L325.90,661.30 L321.70,661.30 Z" fill="#2f2f2f"/>
<line x1="352.20" y1="650.30" x2="352.20" y2="751.30" stroke="#2f2f2f" stroke-width="1.0" />
<path d="M352.20,751.30 L350.10,745.30 L354.30,745.30 Z" fill="#2f2f2f"/>
<path d="M352.20,650.30 L354.30,656.30 L350.10,656.30 Z" fill="#2f2f2f"/>
<line x1="81.50" y1="789.10" x2="249.10" y2="789.10" stroke="#2f2f2f" stroke-width="1.0" />
<path d="M249.10,789.10 L243.10,791.20 L243.10,787.00 Z" fill="#2f2f2f"/>
<path d="M81.50,789.10 L87.50,787.00 L87.50,791.20 Z" fill="#2f2f2f"/>
<line x1="76.40" y1="814.70" x2="254.50" y2="814.70" stroke="#2f2f2f" stroke-width="1.0" />
<path d="M254.50,814.70 L248.50,816.80 L248.50,812.60 Z" fill="#2f2f2f"/>
<path d="M76.40,814.70 L82.40,812.60 L82.40,816.80 Z" fill="#2f2f2f"/>
<line x1="72.50" y1="842.60" x2="258.60" y2="842.60" stroke="#2f2f2f" stroke-width="1.0" />
<path d="M258.60,842.60 L252.60,844.70 L252.60,840.50 Z" fill="#2f2f2f"/>
<path d="M72.50,842.60 L78.50,840.50 L78.50,844.70 Z" fill="#2f2f2f"/>
<line x1="72.40" y1="1027.30" x2="322.40" y2="1027.30" stroke="#2f2f2f" stroke-width="1.0" />
<path d="M322.40,1027.30 L316.40,1029.40 L316.40,1025.20 Z" fill="#2f2f2f"/>
<path d="M72.40,1027.30 L78.40,1025.20 L78.40,1029.40 Z" fill="#2f2f2f"/>
<line x1="234.20" y1="724.90" x2="245.60" y2="738.40" stroke="#2f2f2f" stroke-width="1.0" />
<path d="M245.60,738.40 L240.12,735.17 L243.33,732.46 Z" fill="#2f2f2f"/>
<line x1="286.40" y1="781.70" x2="305.10" y2="781.70" stroke="#2f2f2f" stroke-width="1.0" />
<line x1="286.40" y1="781.70" x2="258.70" y2="753.60" stroke="#2f2f2f" stroke-width="1.0" />
<path d="M258.70,753.60 L264.41,756.40 L261.42,759.35 Z" fill="#2f2f2f"/>
<text x="283.20" y="706.80" font-size="14.0" fill="#2d2d2d" text-anchor="middle" textLength="7.70" lengthAdjust="spacingAndGlyphs">C</text>
<text x="316.50" y="706.80" font-size="14.0" fill="#2d2d2d" text-anchor="middle" textLength="6.60" lengthAdjust="spacingAndGlyphs">E</text>
<text x="345.30" y="706.80" font-size="14.0" fill="#2d2d2d" text-anchor="middle" textLength="8.10" lengthAdjust="spacingAndGlyphs">G</text>
<text x="166.70" y="786.00" font-size="14.0" fill="#2d2d2d" text-anchor="middle" textLength="8.10" lengthAdjust="spacingAndGlyphs">B</text>
<text x="166.70" y="811.70" font-size="14.0" fill="#2d2d2d" text-anchor="middle" textLength="8.20" lengthAdjust="spacingAndGlyphs">D</text>
<text x="166.20" y="839.40" font-size="14.0" fill="#2d2d2d" text-anchor="middle" textLength="6.60" lengthAdjust="spacingAndGlyphs">F</text>
<text x="198.40" y="1025.00" font-size="14.0" fill="#2d2d2d" text-anchor="middle" textLength="8.00" lengthAdjust="spacingAndGlyphs">A</text>
<text x="287.80" y="777.80" font-size="14.0" fill="#2d2d2d" textLength="16.70" lengthAdjust="spacingAndGlyphs">ØH</text>
<rect x="72.5" y="874.7" width="2.9" height="98.3" fill="#ececee" stroke="#808080" stroke-width="1"/>
<rect x="319.0" y="874.7" width="2.9" height="98.3" fill="#ececee" stroke="#808080" stroke-width="1"/>
<line x1="75.40" y1="882.90" x2="319.00" y2="882.90" stroke="#808080" stroke-width="1.3" />
<line x1="75.40" y1="964.40" x2="319.00" y2="964.40" stroke="#808080" stroke-width="1.3" />
<line x1="72.40" y1="938.90" x2="72.40" y2="1033.80" stroke="#2f2f2f" stroke-width="1.0" />
<line x1="322.40" y1="938.90" x2="322.40" y2="1033.80" stroke="#2f2f2f" stroke-width="1.0" />
<rect x="390.20" y="632.20" width="75.60" height="20.80" fill="#d6d7d9" />
<rect x="468.00" y="632.20" width="73.60" height="20.80" fill="#d6d7d9" />
<rect x="544.33" y="632.20" width="73.60" height="20.80" fill="#d6d7d9" />
<rect x="620.66" y="632.20" width="73.60" height="20.80" fill="#d6d7d9" />
<rect x="696.99" y="632.20" width="73.60" height="20.80" fill="#d6d7d9" />
<rect x="773.32" y="632.20" width="73.60" height="20.80" fill="#d6d7d9" />
<rect x="849.65" y="632.20" width="73.60" height="20.80" fill="#d6d7d9" />
<rect x="925.98" y="632.20" width="73.60" height="20.80" fill="#d6d7d9" />
<rect x="1002.30" y="632.20" width="75.50" height="20.80" fill="#d6d7d9" />
<text x="428.00" y="647.70" font-size="13.4" font-weight="bold" fill="#222" text-anchor="middle" textLength="48.50" lengthAdjust="spacingAndGlyphs">Модель</text>
<text x="504.80" y="647.70" font-size="13.4" font-weight="bold" fill="#222" text-anchor="middle">A</text>
<text x="581.13" y="647.70" font-size="13.4" font-weight="bold" fill="#222" text-anchor="middle">B</text>
<text x="657.46" y="647.70" font-size="13.4" font-weight="bold" fill="#222" text-anchor="middle">C</text>
<text x="733.79" y="647.70" font-size="13.4" font-weight="bold" fill="#222" text-anchor="middle">D</text>
<text x="810.12" y="647.70" font-size="13.4" font-weight="bold" fill="#222" text-anchor="middle">E</text>
<text x="886.45" y="647.70" font-size="13.4" font-weight="bold" fill="#222" text-anchor="middle">F</text>
<text x="962.78" y="647.70" font-size="13.4" font-weight="bold" fill="#222" text-anchor="middle">G</text>
<text x="1040.05" y="647.70" font-size="13.4" font-weight="bold" fill="#222" text-anchor="middle">ØH</text>
<rect x="390.20" y="655.40" width="75.60" height="20.30" fill="#e9e9eb" />
<text x="396.60" y="670.70" font-size="13.4" fill="#333" textLength="20.70" lengthAdjust="spacingAndGlyphs">200</text>
<rect x="468.00" y="655.40" width="73.60" height="20.30" fill="#e9e9eb" />
<text x="515.30" y="670.70" font-size="13.4" fill="#333" text-anchor="end" textLength="20.85" lengthAdjust="spacingAndGlyphs">505</text>
<rect x="544.33" y="655.40" width="73.60" height="20.30" fill="#e9e9eb" />
<text x="594.70" y="670.70" font-size="13.4" fill="#333" text-anchor="end" textLength="20.85" lengthAdjust="spacingAndGlyphs">400</text>
<rect x="620.66" y="655.40" width="73.60" height="20.30" fill="#e9e9eb" />
<text x="668.00" y="670.70" font-size="13.4" fill="#333" text-anchor="end" textLength="20.85" lengthAdjust="spacingAndGlyphs">198</text>
<rect x="696.99" y="655.40" width="73.60" height="20.30" fill="#e9e9eb" />
<text x="747.40" y="670.70" font-size="13.4" fill="#333" text-anchor="end" textLength="20.85" lengthAdjust="spacingAndGlyphs">420</text>
<rect x="773.32" y="655.40" width="73.60" height="20.30" fill="#e9e9eb" />
<text x="820.70" y="670.70" font-size="13.4" fill="#333" text-anchor="end" textLength="20.85" lengthAdjust="spacingAndGlyphs">220</text>
<rect x="849.65" y="655.40" width="73.60" height="20.30" fill="#e9e9eb" />
<text x="899.90" y="670.70" font-size="13.4" fill="#333" text-anchor="end" textLength="20.85" lengthAdjust="spacingAndGlyphs">440</text>
<rect x="925.98" y="655.40" width="73.60" height="20.30" fill="#e9e9eb" />
<text x="973.20" y="670.70" font-size="13.4" fill="#333" text-anchor="end" textLength="20.85" lengthAdjust="spacingAndGlyphs">240</text>
<rect x="1002.30" y="655.40" width="75.50" height="20.30" fill="#e9e9eb" />
<text x="1038.90" y="670.70" font-size="13.4" fill="#333" text-anchor="middle" textLength="6.50" lengthAdjust="spacingAndGlyphs">9</text>
<rect x="390.20" y="677.82" width="75.60" height="20.30" fill="#e4e4e6" />
<text x="396.60" y="693.12" font-size="13.4" fill="#333" textLength="20.70" lengthAdjust="spacingAndGlyphs">225</text>
<rect x="468.00" y="677.82" width="73.60" height="20.30" fill="#e4e4e6" />
<text x="515.30" y="693.12" font-size="13.4" fill="#333" text-anchor="end" textLength="20.85" lengthAdjust="spacingAndGlyphs">535</text>
<rect x="544.33" y="677.82" width="73.60" height="20.30" fill="#e4e4e6" />
<text x="594.70" y="693.12" font-size="13.4" fill="#333" text-anchor="end" textLength="20.85" lengthAdjust="spacingAndGlyphs">500</text>
<rect x="620.66" y="677.82" width="73.60" height="20.30" fill="#e4e4e6" />
<text x="668.00" y="693.12" font-size="13.4" fill="#333" text-anchor="end" textLength="20.85" lengthAdjust="spacingAndGlyphs">248</text>
<rect x="696.99" y="677.82" width="73.60" height="20.30" fill="#e4e4e6" />
<text x="747.40" y="693.12" font-size="13.4" fill="#333" text-anchor="end" textLength="20.85" lengthAdjust="spacingAndGlyphs">520</text>
<rect x="773.32" y="677.82" width="73.60" height="20.30" fill="#e4e4e6" />
<text x="820.70" y="693.12" font-size="13.4" fill="#333" text-anchor="end" textLength="20.85" lengthAdjust="spacingAndGlyphs">270</text>
<rect x="849.65" y="677.82" width="73.60" height="20.30" fill="#e4e4e6" />
<text x="899.90" y="693.12" font-size="13.4" fill="#333" text-anchor="end" textLength="20.85" lengthAdjust="spacingAndGlyphs">540</text>
<rect x="925.98" y="677.82" width="73.60" height="20.30" fill="#e4e4e6" />
<text x="973.20" y="693.12" font-size="13.4" fill="#333" text-anchor="end" textLength="20.85" lengthAdjust="spacingAndGlyphs">290</text>
<rect x="1002.30" y="677.82" width="75.50" height="20.30" fill="#e4e4e6" />
<text x="1038.90" y="693.12" font-size="13.4" fill="#333" text-anchor="middle" textLength="6.50" lengthAdjust="spacingAndGlyphs">9</text>
<rect x="390.20" y="700.24" width="75.60" height="20.30" fill="#e9e9eb" />
<text x="396.60" y="715.54" font-size="13.4" fill="#333" textLength="20.70" lengthAdjust="spacingAndGlyphs">250</text>
<rect x="468.00" y="700.24" width="73.60" height="20.30" fill="#e9e9eb" />
<text x="515.30" y="715.54" font-size="13.4" fill="#333" text-anchor="end" textLength="20.85" lengthAdjust="spacingAndGlyphs">565</text>
<rect x="544.33" y="700.24" width="73.60" height="20.30" fill="#e9e9eb" />
<text x="594.70" y="715.54" font-size="13.4" fill="#333" text-anchor="end" textLength="20.85" lengthAdjust="spacingAndGlyphs">500</text>
<rect x="620.66" y="700.24" width="73.60" height="20.30" fill="#e9e9eb" />
<text x="668.00" y="715.54" font-size="13.4" fill="#333" text-anchor="end" textLength="20.85" lengthAdjust="spacingAndGlyphs">298</text>
<rect x="696.99" y="700.24" width="73.60" height="20.30" fill="#e9e9eb" />
<text x="747.40" y="715.54" font-size="13.4" fill="#333" text-anchor="end" textLength="20.85" lengthAdjust="spacingAndGlyphs">520</text>
<rect x="773.32" y="700.24" width="73.60" height="20.30" fill="#e9e9eb" />
<text x="820.70" y="715.54" font-size="13.4" fill="#333" text-anchor="end" textLength="20.85" lengthAdjust="spacingAndGlyphs">320</text>
<rect x="849.65" y="700.24" width="73.60" height="20.30" fill="#e9e9eb" />
<text x="899.90" y="715.54" font-size="13.4" fill="#333" text-anchor="end" textLength="20.85" lengthAdjust="spacingAndGlyphs">540</text>
<rect x="925.98" y="700.24" width="73.60" height="20.30" fill="#e9e9eb" />
<text x="973.20" y="715.54" font-size="13.4" fill="#333" text-anchor="end" textLength="20.85" lengthAdjust="spacingAndGlyphs">340</text>
<rect x="1002.30" y="700.24" width="75.50" height="20.30" fill="#e9e9eb" />
<text x="1038.90" y="715.54" font-size="13.4" fill="#333" text-anchor="middle" textLength="6.50" lengthAdjust="spacingAndGlyphs">9</text>
<rect x="390.20" y="722.66" width="75.60" height="20.30" fill="#e4e4e6" />
<text x="396.60" y="737.96" font-size="13.4" fill="#333" textLength="20.70" lengthAdjust="spacingAndGlyphs">285</text>
<rect x="468.00" y="722.66" width="73.60" height="20.30" fill="#e4e4e6" />
<text x="515.30" y="737.96" font-size="13.4" fill="#333" text-anchor="end" textLength="20.85" lengthAdjust="spacingAndGlyphs">645</text>
<rect x="544.33" y="722.66" width="73.60" height="20.30" fill="#e4e4e6" />
<text x="594.70" y="737.96" font-size="13.4" fill="#333" text-anchor="end" textLength="20.85" lengthAdjust="spacingAndGlyphs">600</text>
<rect x="620.66" y="722.66" width="73.60" height="20.30" fill="#e4e4e6" />
<text x="668.00" y="737.96" font-size="13.4" fill="#333" text-anchor="end" textLength="20.85" lengthAdjust="spacingAndGlyphs">298</text>
<rect x="696.99" y="722.66" width="73.60" height="20.30" fill="#e4e4e6" />
<text x="747.40" y="737.96" font-size="13.4" fill="#333" text-anchor="end" textLength="20.85" lengthAdjust="spacingAndGlyphs">620</text>
<rect x="773.32" y="722.66" width="73.60" height="20.30" fill="#e4e4e6" />
<text x="820.70" y="737.96" font-size="13.4" fill="#333" text-anchor="end" textLength="20.85" lengthAdjust="spacingAndGlyphs">320</text>
<rect x="849.65" y="722.66" width="73.60" height="20.30" fill="#e4e4e6" />
<text x="899.90" y="737.96" font-size="13.4" fill="#333" text-anchor="end" textLength="20.85" lengthAdjust="spacingAndGlyphs">640</text>
<rect x="925.98" y="722.66" width="73.60" height="20.30" fill="#e4e4e6" />
<text x="973.20" y="737.96" font-size="13.4" fill="#333" text-anchor="end" textLength="20.85" lengthAdjust="spacingAndGlyphs">340</text>
<rect x="1002.30" y="722.66" width="75.50" height="20.30" fill="#e4e4e6" />
<text x="1038.90" y="737.96" font-size="13.4" fill="#333" text-anchor="middle" textLength="6.50" lengthAdjust="spacingAndGlyphs">9</text>
<rect x="390.20" y="745.08" width="75.60" height="20.30" fill="#e9e9eb" />
<text x="396.60" y="760.38" font-size="13.4" fill="#333" textLength="20.70" lengthAdjust="spacingAndGlyphs">315</text>
<rect x="468.00" y="745.08" width="73.60" height="20.30" fill="#e9e9eb" />
<text x="515.30" y="760.38" font-size="13.4" fill="#333" text-anchor="end" textLength="20.85" lengthAdjust="spacingAndGlyphs">725</text>
<rect x="544.33" y="745.08" width="73.60" height="20.30" fill="#e9e9eb" />
<text x="594.70" y="760.38" font-size="13.4" fill="#333" text-anchor="end" textLength="20.85" lengthAdjust="spacingAndGlyphs">600</text>
<rect x="620.66" y="745.08" width="73.60" height="20.30" fill="#e9e9eb" />
<text x="668.00" y="760.38" font-size="13.4" fill="#333" text-anchor="end" textLength="20.85" lengthAdjust="spacingAndGlyphs">348</text>
<rect x="696.99" y="745.08" width="73.60" height="20.30" fill="#e9e9eb" />
<text x="747.40" y="760.38" font-size="13.4" fill="#333" text-anchor="end" textLength="20.85" lengthAdjust="spacingAndGlyphs">620</text>
<rect x="773.32" y="745.08" width="73.60" height="20.30" fill="#e9e9eb" />
<text x="820.70" y="760.38" font-size="13.4" fill="#333" text-anchor="end" textLength="20.85" lengthAdjust="spacingAndGlyphs">370</text>
<rect x="849.65" y="745.08" width="73.60" height="20.30" fill="#e9e9eb" />
<text x="899.90" y="760.38" font-size="13.4" fill="#333" text-anchor="end" textLength="20.85" lengthAdjust="spacingAndGlyphs">640</text>
<rect x="925.98" y="745.08" width="73.60" height="20.30" fill="#e9e9eb" />
<text x="973.20" y="760.38" font-size="13.4" fill="#333" text-anchor="end" textLength="20.85" lengthAdjust="spacingAndGlyphs">390</text>
<rect x="1002.30" y="745.08" width="75.50" height="20.30" fill="#e9e9eb" />
<text x="1038.90" y="760.38" font-size="13.4" fill="#333" text-anchor="middle" textLength="6.50" lengthAdjust="spacingAndGlyphs">9</text>
<rect x="390.20" y="767.50" width="75.60" height="20.30" fill="#e4e4e6" />
<text x="396.60" y="782.80" font-size="13.4" fill="#333" textLength="20.70" lengthAdjust="spacingAndGlyphs">355</text>
<rect x="468.00" y="767.50" width="73.60" height="20.30" fill="#e4e4e6" />
<text x="515.30" y="782.80" font-size="13.4" fill="#333" text-anchor="end" textLength="20.85" lengthAdjust="spacingAndGlyphs">785</text>
<rect x="544.33" y="767.50" width="73.60" height="20.30" fill="#e4e4e6" />
<text x="594.70" y="782.80" font-size="13.4" fill="#333" text-anchor="end" textLength="20.85" lengthAdjust="spacingAndGlyphs">700</text>
<rect x="620.66" y="767.50" width="73.60" height="20.30" fill="#e4e4e6" />
<text x="668.00" y="782.80" font-size="13.4" fill="#333" text-anchor="end" textLength="20.85" lengthAdjust="spacingAndGlyphs">398</text>
<rect x="696.99" y="767.50" width="73.60" height="20.30" fill="#e4e4e6" />
<text x="747.40" y="782.80" font-size="13.4" fill="#333" text-anchor="end" textLength="20.85" lengthAdjust="spacingAndGlyphs">720</text>
<rect x="773.32" y="767.50" width="73.60" height="20.30" fill="#e4e4e6" />
<text x="820.70" y="782.80" font-size="13.4" fill="#333" text-anchor="end" textLength="20.85" lengthAdjust="spacingAndGlyphs">420</text>
<rect x="849.65" y="767.50" width="73.60" height="20.30" fill="#e4e4e6" />
<text x="899.90" y="782.80" font-size="13.4" fill="#333" text-anchor="end" textLength="20.85" lengthAdjust="spacingAndGlyphs">740</text>
<rect x="925.98" y="767.50" width="73.60" height="20.30" fill="#e4e4e6" />
<text x="973.20" y="782.80" font-size="13.4" fill="#333" text-anchor="end" textLength="20.85" lengthAdjust="spacingAndGlyphs">440</text>
<rect x="1002.30" y="767.50" width="75.50" height="20.30" fill="#e4e4e6" />
<text x="1038.90" y="782.80" font-size="13.4" fill="#333" text-anchor="middle" textLength="6.50" lengthAdjust="spacingAndGlyphs">9</text>
<rect x="390.20" y="789.92" width="75.60" height="20.30" fill="#e9e9eb" />
<text x="396.60" y="805.22" font-size="13.4" fill="#333" textLength="20.70" lengthAdjust="spacingAndGlyphs">400</text>
<rect x="468.00" y="789.92" width="73.60" height="20.30" fill="#e9e9eb" />
<text x="515.30" y="805.22" font-size="13.4" fill="#333" text-anchor="end" textLength="20.85" lengthAdjust="spacingAndGlyphs">885</text>
<rect x="544.33" y="789.92" width="73.60" height="20.30" fill="#e9e9eb" />
<text x="594.70" y="805.22" font-size="13.4" fill="#333" text-anchor="end" textLength="20.85" lengthAdjust="spacingAndGlyphs">800</text>
<rect x="620.66" y="789.92" width="73.60" height="20.30" fill="#e9e9eb" />
<text x="668.00" y="805.22" font-size="13.4" fill="#333" text-anchor="end" textLength="20.85" lengthAdjust="spacingAndGlyphs">498</text>
<rect x="696.99" y="789.92" width="73.60" height="20.30" fill="#e9e9eb" />
<text x="747.40" y="805.22" font-size="13.4" fill="#333" text-anchor="end" textLength="20.85" lengthAdjust="spacingAndGlyphs">820</text>
<rect x="773.32" y="789.92" width="73.60" height="20.30" fill="#e9e9eb" />
<text x="820.70" y="805.22" font-size="13.4" fill="#333" text-anchor="end" textLength="20.85" lengthAdjust="spacingAndGlyphs">520</text>
<rect x="849.65" y="789.92" width="73.60" height="20.30" fill="#e9e9eb" />
<text x="899.90" y="805.22" font-size="13.4" fill="#333" text-anchor="end" textLength="20.85" lengthAdjust="spacingAndGlyphs">840</text>
<rect x="925.98" y="789.92" width="73.60" height="20.30" fill="#e9e9eb" />
<text x="973.20" y="805.22" font-size="13.4" fill="#333" text-anchor="end" textLength="20.85" lengthAdjust="spacingAndGlyphs">540</text>
<rect x="1002.30" y="789.92" width="75.50" height="20.30" fill="#e9e9eb" />
<text x="1038.90" y="805.22" font-size="13.4" fill="#333" text-anchor="middle" textLength="6.50" lengthAdjust="spacingAndGlyphs">9</text>
<rect x="390.20" y="812.34" width="75.60" height="20.30" fill="#e4e4e6" />
<text x="396.60" y="827.64" font-size="13.4" fill="#333" textLength="20.70" lengthAdjust="spacingAndGlyphs">450</text>
<rect x="468.00" y="812.34" width="73.60" height="20.30" fill="#e4e4e6" />
<text x="515.30" y="827.64" font-size="13.4" fill="#333" text-anchor="end" textLength="20.85" lengthAdjust="spacingAndGlyphs">985</text>
<rect x="544.33" y="812.34" width="73.60" height="20.30" fill="#e4e4e6" />
<text x="594.70" y="827.64" font-size="13.4" fill="#333" text-anchor="end" textLength="27.80" lengthAdjust="spacingAndGlyphs">1000</text>
<rect x="620.66" y="812.34" width="73.60" height="20.30" fill="#e4e4e6" />
<text x="668.00" y="827.64" font-size="13.4" fill="#333" text-anchor="end" textLength="20.85" lengthAdjust="spacingAndGlyphs">498</text>
<rect x="696.99" y="812.34" width="73.60" height="20.30" fill="#e4e4e6" />
<text x="747.40" y="827.64" font-size="13.4" fill="#333" text-anchor="end" textLength="27.80" lengthAdjust="spacingAndGlyphs">1020</text>
<rect x="773.32" y="812.34" width="73.60" height="20.30" fill="#e4e4e6" />
<text x="820.70" y="827.64" font-size="13.4" fill="#333" text-anchor="end" textLength="20.85" lengthAdjust="spacingAndGlyphs">520</text>
<rect x="849.65" y="812.34" width="73.60" height="20.30" fill="#e4e4e6" />
<text x="899.90" y="827.64" font-size="13.4" fill="#333" text-anchor="end" textLength="27.80" lengthAdjust="spacingAndGlyphs">1040</text>
<rect x="925.98" y="812.34" width="73.60" height="20.30" fill="#e4e4e6" />
<text x="973.20" y="827.64" font-size="13.4" fill="#333" text-anchor="end" textLength="20.85" lengthAdjust="spacingAndGlyphs">540</text>
<rect x="1002.30" y="812.34" width="75.50" height="20.30" fill="#e4e4e6" />
<text x="1038.90" y="827.64" font-size="13.4" fill="#333" text-anchor="middle" textLength="6.50" lengthAdjust="spacingAndGlyphs">9</text>
</svg>
</body></html>
